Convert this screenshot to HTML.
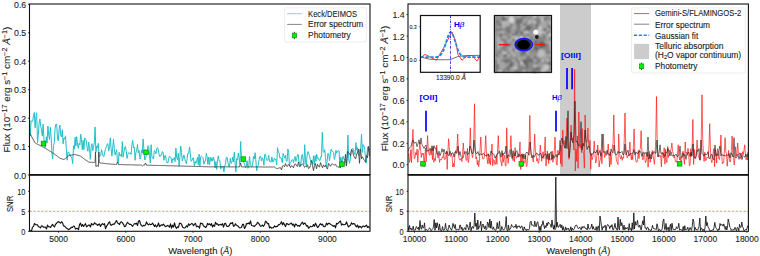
<!DOCTYPE html>
<html><head><meta charset="utf-8"><style>
html,body{margin:0;padding:0;background:#fff;}
svg{display:block;}
text{font-family:"Liberation Sans", sans-serif;stroke-width:0.1px;}
</style></head><body>
<svg width="760" height="256" viewBox="0 0 760 256">
<defs>
<clipPath id="cl1"><rect x="29.5" y="4.0" width="340.5" height="170.6"/></clipPath>
<clipPath id="cl2"><rect x="29.5" y="174.6" width="340.5" height="56.70000000000002"/></clipPath>
<clipPath id="cr1"><rect x="408.0" y="4.0" width="340.4" height="170.6"/></clipPath>
<clipPath id="cr2"><rect x="408.0" y="174.6" width="340.4" height="56.70000000000002"/></clipPath>
<clipPath id="ci1"><rect x="420.5" y="15.5" width="59.7" height="56.8"/></clipPath>
<filter id="blur" x="0" y="0" width="1" height="1"><feGaussianBlur stdDeviation="0.9"/></filter>
<filter id="blur2" x="-1" y="-1" width="3" height="3"><feGaussianBlur stdDeviation="0.6"/></filter>
</defs>
<rect width="760" height="256" fill="#fff"/>

<!-- LEFT top -->
<g clip-path="url(#cl1)" fill="none" stroke-linejoin="round">
<polyline points="29.5,120.3 30.3,135.7 31.1,120.6 31.9,121.6 32.7,121.1 33.5,115.4 34.3,112.5 35.1,127.8 35.9,117.0 36.7,112.8 37.5,142.9 38.3,135.5 39.1,123.2 39.9,119.0 40.7,126.2 41.5,130.0 42.3,136.1 43.1,124.1 43.9,138.1 44.7,147.3 45.5,147.1 46.3,136.8 47.1,143.1 47.9,126.0 48.7,135.2 49.5,139.4 50.3,127.2 51.1,136.7 51.9,152.5 52.7,159.1 53.5,145.7 54.3,142.4 55.1,128.2 55.9,124.2 56.7,124.1 57.5,138.9 58.3,140.8 59.1,129.5 59.9,125.0 60.7,135.7 61.5,136.9 62.3,129.6 63.1,143.8 63.9,138.0 64.7,139.2 65.5,135.8 66.3,148.4 67.1,160.2 67.9,152.3 68.7,152.0 69.5,155.0 70.3,154.9 71.1,157.1 71.9,157.9 72.7,163.7 73.5,145.7 74.3,149.3 75.1,137.1 75.9,146.1 76.7,136.7 77.5,144.0 78.3,148.3 79.1,143.3 79.9,144.9 80.7,134.2 81.5,139.8 82.3,149.8 83.1,140.3 83.9,149.6 84.7,137.9 85.5,139.6 86.3,140.0 87.1,147.9 87.9,151.3 88.7,142.1 89.5,148.3 90.3,159.3 91.1,147.6 91.9,143.7 92.7,150.7 93.5,147.3 94.3,142.9 95.1,127.0 95.9,152.3 96.7,146.0 97.5,147.7 98.3,143.3 99.1,156.9 99.9,155.5 100.7,155.7 101.5,149.6 102.3,152.7 103.1,156.0 103.9,156.6 104.7,152.1 105.5,149.1 106.3,146.8 107.1,144.2 107.9,143.7 108.7,151.1 109.5,147.3 110.3,137.8 111.1,148.5 111.9,156.2 112.7,148.1 113.5,139.1 114.3,148.9 115.1,155.2 115.9,152.0 116.7,149.7 117.5,162.6 118.3,163.1 119.1,152.3 119.9,155.9 120.7,154.5 121.5,156.9 122.3,141.5 123.1,157.1 123.9,152.0 124.7,147.3 125.5,146.5 126.3,151.7 127.1,158.4 127.9,154.3 128.7,152.6 129.5,153.4 130.3,152.8 131.1,154.4 131.9,145.1 132.7,140.4 133.5,147.9 134.3,147.0 135.1,160.3 135.9,152.7 136.7,150.2 137.5,144.6 138.3,152.9 139.1,150.5 139.9,159.1 140.7,157.7 141.5,149.9 142.3,153.1 143.1,139.0 143.9,148.9 144.7,160.0 145.5,158.5 146.3,155.0 147.1,152.8 147.9,145.7 148.7,146.2 149.5,155.3 150.3,163.0 151.1,144.7 151.9,156.3 152.7,158.2 153.5,158.9 154.3,150.4 155.1,151.4 155.9,153.9 156.7,148.9 157.5,147.6 158.3,149.8 159.1,154.3 159.9,156.7 160.7,155.2 161.5,155.1 162.3,151.6 163.1,152.1 163.9,160.3 164.7,155.8 165.5,155.7 166.3,160.7 167.1,162.9 167.9,162.8 168.7,158.5 169.5,156.1 170.3,157.5 171.1,157.9 171.9,163.0 172.7,158.8 173.5,159.5 174.3,157.5 175.1,161.7 175.9,148.1 176.7,157.7 177.5,159.8 178.3,153.2 179.1,166.1 179.9,157.4 180.7,146.0 181.5,152.6 182.3,160.8 183.1,158.5 183.9,154.9 184.7,158.6 185.5,161.5 186.3,163.7 187.1,158.8 187.9,153.2 188.7,153.5 189.5,146.9 190.3,153.9 191.1,161.3 191.9,160.7 192.7,158.0 193.5,157.9 194.3,165.7 195.1,161.5 195.9,163.4 196.7,160.9 197.5,157.3 198.3,165.1 199.1,154.2 199.9,166.0 200.7,156.7 201.5,156.1 202.3,156.8 203.1,157.7 203.9,164.2 204.7,161.3 205.5,161.1 206.3,153.4 207.1,156.8 207.9,164.4 208.7,157.0 209.5,164.9 210.3,157.4 211.1,161.3 211.9,157.7 212.7,161.0 213.5,157.2 214.3,160.4 215.1,168.0 215.9,161.6 216.7,169.5 217.5,159.7 218.3,155.9 219.1,160.7 219.9,160.5 220.7,169.1 221.5,166.6 222.3,167.2 223.1,166.0 223.9,172.0 224.7,166.4 225.5,163.7 226.3,157.6 227.1,157.2 227.9,162.3 228.7,166.5 229.5,166.4 230.3,158.3 231.1,163.4 231.9,162.1 232.7,157.1 233.5,162.0 234.3,152.2 235.1,162.9 235.9,171.9 236.7,158.6 237.5,160.2 238.3,153.1 239.1,157.9 239.9,164.0 240.7,141.5 241.5,160.9 242.3,160.1 243.1,160.1 243.9,162.7 244.7,164.7 245.5,167.9 246.3,165.9 247.1,160.7 247.9,168.4 248.7,167.3 249.5,156.3 250.3,164.5 251.1,166.4 251.9,166.9 252.7,164.1 253.5,156.4 254.3,158.9 255.1,152.7 255.9,161.1 256.7,170.8 257.5,166.2 258.3,165.4 259.1,159.4 259.9,156.4 260.7,156.5 261.5,161.1 262.3,157.8 263.1,159.0 263.9,165.3 264.7,154.3 265.5,154.6 266.3,158.5 267.1,160.7 267.9,160.0 268.7,155.4 269.5,161.4 270.3,161.1 271.1,162.2 271.9,156.9 272.7,161.8 273.5,161.9 274.3,158.3 275.1,159.6 275.9,159.3 276.7,165.0 277.5,147.6 278.3,152.2 279.1,152.7 279.9,158.1 280.7,157.5 281.5,159.0 282.3,162.7 283.1,153.4 283.9,155.8 284.7,158.2 285.5,155.1 286.3,161.2 287.1,161.2 287.9,149.0 288.7,152.5 289.5,165.8 290.3,162.6 291.1,161.5 291.9,159.8 292.7,159.6 293.5,162.6 294.3,158.9 295.1,156.4 295.9,161.4 296.7,158.7 297.5,154.6 298.3,154.6 299.1,163.0 299.9,162.4 300.7,166.6 301.5,156.3 302.3,154.6 303.1,160.0 303.9,164.4 304.7,144.7 305.5,161.0 306.3,165.8 307.1,154.9 307.9,151.5 308.7,153.6 309.5,156.1 310.3,159.7 311.1,162.5 311.9,160.7 312.7,163.9 313.5,155.8 314.3,164.9 315.1,155.6 315.9,161.6 316.7,154.2 317.5,158.4 318.3,158.1 319.1,160.0 319.9,160.7 320.7,156.8 321.5,157.0 322.3,132.4 323.1,151.3 323.9,152.5 324.7,149.8 325.5,157.5 326.3,167.1 327.1,161.0 327.9,153.3 328.7,154.0 329.5,160.6 330.3,154.6 331.1,149.2 331.9,151.1 332.7,151.3 333.5,152.4 334.3,159.4 335.1,156.9 335.9,150.3 336.7,153.2 337.5,151.1 338.3,150.4 339.1,150.8 339.9,168.0 340.7,156.9 341.5,159.8 342.3,160.9 343.1,156.1 343.9,159.4 344.7,159.7 345.5,159.2 346.3,166.0 347.1,158.2 347.9,135.0 348.7,158.8 349.5,163.3 350.3,159.3 351.1,152.0 351.9,149.1 352.7,148.3 353.5,149.6 354.3,154.1 355.1,154.6 355.9,142.6 356.7,150.1 357.5,147.6 358.3,154.8 359.1,155.9 359.9,148.9 360.7,149.1 361.5,134.0 362.3,152.3 363.1,144.6 363.9,145.9 364.7,149.1 365.5,158.2 366.3,163.1 367.1,152.7 367.9,146.7 368.7,151.2 369.5,148.3" stroke="#22bfc8" stroke-width="1.0"/>
<polyline points="29.5,132.5 30.5,134.4 31.5,136.3 32.5,138.2 33.5,140.1 34.5,142.0 35.5,143.2 36.5,143.8 37.5,144.2 38.5,144.8 39.5,145.2 40.5,145.8 41.5,146.2 42.5,146.8 43.5,147.2 44.5,147.8 45.5,148.3 46.5,149.0 47.5,149.6 48.5,150.3 49.5,150.9 50.5,151.6 51.5,152.2 52.5,152.9 53.5,153.5 54.5,154.2 55.5,154.9 56.5,155.6 57.5,156.4 58.5,157.2 59.5,157.9 60.5,158.5 61.5,158.8 62.5,159.1 63.5,159.4 64.5,159.2 65.5,158.4 66.5,157.6 67.5,156.7 68.5,155.9 69.5,155.4 70.5,155.2 71.5,155.1 72.5,154.9 73.5,154.8 74.5,154.6 75.5,154.6 76.5,154.9 77.5,155.2 78.5,155.4 79.5,155.7 80.5,156.2 81.5,156.9 82.5,157.7 83.5,158.5 84.5,159.2 85.5,159.9 86.5,160.6 87.5,161.2 88.5,161.9 89.5,162.2 90.5,162.3 91.5,162.3 92.5,162.4 93.5,162.4 94.5,162.5 95.1,161.5 95.5,152.0 95.9,166.5 97.2,165.5 98.4,166.5 98.8,152.0 99.2,162.5 100.5,163.1 101.5,163.2 102.5,163.2 103.5,163.3 104.5,163.4 105.5,163.6 106.5,163.7 107.5,163.8 108.5,163.8 109.5,163.9 110.5,164.1 111.5,164.2 112.5,164.2 113.5,164.3 114.5,164.4 115.5,164.5 116.5,164.5 117.5,162.0 118.5,164.6 119.5,164.6 120.5,164.6 121.5,164.6 122.5,164.7 123.5,164.7 124.5,164.7 125.5,164.7 126.5,164.8 127.5,164.8 128.5,164.8 129.5,164.8 130.5,164.8 131.5,164.9 132.5,164.9 133.5,164.9 134.5,164.9 135.5,165.0 136.5,165.0 137.5,165.0 138.5,165.0 139.5,165.0 140.5,165.1 141.5,165.1 142.5,166.0 143.5,165.1 144.5,165.2 145.5,163.0 146.5,165.2 147.5,165.2 148.5,165.2 149.5,165.3 150.5,165.3 151.5,165.3 152.5,165.3 153.5,165.4 154.5,165.4 155.5,165.4 156.5,165.4 157.5,165.4 158.5,165.5 159.5,165.5 160.5,165.5 161.5,165.5 162.5,165.6 163.5,165.6 164.5,165.6 165.5,165.6 166.5,165.7 167.5,165.7 168.5,165.7 169.5,165.8 170.5,165.8 171.5,165.8 172.5,165.8 173.5,165.9 174.5,165.9 175.5,165.9 176.5,165.9 177.5,166.0 178.5,166.0 179.5,166.0 180.5,166.0 181.5,166.1 182.5,166.1 183.5,166.1 184.5,166.2 185.5,166.2 186.5,166.2 187.5,166.2 188.5,166.3 189.5,166.3 190.5,166.3 191.5,166.3 192.5,166.4 193.5,166.4 194.5,166.4 195.5,166.4 196.5,166.5 197.5,166.5 198.5,166.5 199.5,166.5 200.5,166.6 201.5,166.6 202.5,166.6 203.5,166.7 204.5,166.7 205.5,166.7 206.5,166.7 207.5,166.8 208.5,166.8 209.5,166.8 210.5,166.8 211.5,166.8 212.5,166.8 213.5,166.8 214.5,166.8 215.5,166.8 216.5,166.8 217.5,166.8 218.5,166.8 219.5,166.8 220.5,166.8 221.5,166.8 222.5,166.8 223.5,166.8 224.5,166.8 225.5,166.8 226.5,166.8 227.5,166.9 228.5,166.9 229.5,166.9 230.5,166.9 231.5,166.9 232.5,166.9 233.5,166.9 234.5,166.9 235.5,166.9 236.5,166.9 237.5,166.9 238.5,166.9 239.5,166.9 240.5,163.0 241.5,166.9 242.5,166.9 243.5,166.9 244.5,166.9 245.5,166.9 246.5,166.9 247.5,166.9 248.5,166.9 249.5,166.9 250.5,166.9 251.5,166.9 252.5,166.9 253.5,166.9 254.5,166.9 255.5,166.9 256.5,166.9 257.5,166.9 258.5,166.9 259.5,166.9 260.5,166.9 261.5,166.9 262.5,167.0 263.5,167.0 264.5,167.0 265.5,167.0 266.5,167.0 267.5,167.0 268.5,167.0 269.5,167.0 270.5,167.0 271.5,167.0 272.5,167.0 273.5,166.9 274.5,167.0 275.5,167.9 276.5,168.4 277.5,168.6 278.5,168.1 279.5,167.9 280.5,167.7 281.5,169.9 282.5,166.0 283.5,165.6 284.5,166.7 285.5,163.5 286.5,166.1 287.5,166.3 288.5,164.5 289.5,165.2 290.5,167.5 291.5,165.7 292.5,166.2 293.5,167.9 294.5,164.8 295.5,163.7 296.5,165.7 297.5,166.4 298.5,162.2 299.5,166.7 300.5,164.9 301.5,164.7 302.5,163.9 303.5,165.1 304.5,167.3 305.5,166.5 306.5,167.0 307.5,164.8 308.5,168.5 309.5,167.9 310.5,165.4 311.5,160.5 312.5,165.6 313.5,170.7 314.5,165.4 315.5,163.5 316.5,168.8 317.5,164.3 318.5,166.4 319.5,167.0 320.5,162.6 321.5,165.7 322.5,167.8 323.5,164.9 324.5,166.8 325.5,165.4 326.5,167.5 327.5,169.1 328.5,163.3 329.5,164.9 330.5,166.3 331.5,164.2 332.5,163.9 333.5,164.8 334.5,165.0 335.5,164.2 336.5,166.1 337.5,167.1 338.5,167.0 339.5,166.9 340.5,167.6 341.5,160.7 342.5,162.9 343.5,162.9 344.5,163.2 345.5,154.3 346.5,165.9 347.5,151.4 348.5,152.8 349.5,153.5 350.5,155.8 351.5,149.2 352.5,150.6 353.5,155.4 354.5,157.1 355.5,159.0 356.5,154.9 357.5,152.1 358.5,149.2 359.5,163.3 360.5,149.0 361.5,158.7 362.5,156.8 363.5,159.2 364.5,160.2 365.5,162.2 366.5,155.5 367.5,157.8 368.5,146.3 369.5,156.2" stroke="#444" stroke-width="0.9"/>
</g>
<g fill="#00ee00" stroke="#0a8a0a" stroke-width="0.7">
<rect x="41.2" y="141.2" width="4.6" height="4.6"/>
<rect x="143.7" y="150" width="4.6" height="4.6"/>
<rect x="241.1" y="156.8" width="4.6" height="4.6"/>
<rect x="339.7" y="161.9" width="4.6" height="4.6"/>
</g>
<!-- left legend -->
<rect x="284.6" y="7.8" width="81.7" height="34.2" rx="1.5" fill="#fff" fill-opacity="0.8" stroke="#e0e0e0" stroke-width="0.6"/>
<line x1="287.2" y1="13.7" x2="301.8" y2="13.7" stroke="#7fd8dc" stroke-width="1"/>
<line x1="287.2" y1="24.4" x2="301.8" y2="24.4" stroke="#666" stroke-width="0.8"/>
<line x1="294.4" y1="31.8" x2="294.4" y2="39.2" stroke="#000" stroke-width="0.7"/>
<rect x="292.2" y="33.1" width="4.4" height="4.8" fill="#00ee00" stroke="#0a8a0a" stroke-width="0.6"/>
<g fill="#1a1a1a" stroke="#1a1a1a">
<text x="308.10" y="16.70" font-size="8.4" textLength="48.9" lengthAdjust="spacingAndGlyphs">Keck/DEIMOS</text>
<text x="308.10" y="27.30" font-size="8.4" textLength="55.2" lengthAdjust="spacingAndGlyphs">Error spectrum</text>
<text x="308.10" y="38.10" font-size="8.4" textLength="42.7" lengthAdjust="spacingAndGlyphs">Photometry</text>
</g>

<!-- LEFT SNR -->
<line x1="29.5" y1="211.3" x2="370.0" y2="211.3" stroke="#fb9d35" stroke-width="1.0" stroke-dasharray="2.4,1.5"/>
<g clip-path="url(#cl2)"><polyline points="29.5,230.2 30.5,230.7 31.5,231.0 32.5,227.1 33.5,226.4 34.5,223.5 35.5,224.6 36.5,224.8 37.5,224.9 38.5,226.7 39.5,227.0 40.5,227.8 41.5,225.9 42.5,226.1 43.5,227.2 44.5,227.0 45.5,227.2 46.5,229.0 47.5,225.1 48.5,226.7 49.5,226.8 50.5,227.5 51.5,225.9 52.5,224.4 53.5,225.8 54.5,227.0 55.5,224.2 56.5,223.5 57.5,222.2 58.5,221.6 59.5,222.5 60.5,223.1 61.5,221.8 62.5,222.6 63.5,225.9 64.5,226.0 65.5,227.1 66.5,228.2 67.5,228.7 68.5,229.7 69.5,229.1 70.5,228.2 71.5,227.3 72.5,227.5 73.5,226.0 74.5,226.6 75.5,229.1 76.5,228.5 77.5,228.3 78.5,229.6 79.5,224.6 80.5,223.1 81.5,226.3 82.5,224.4 83.5,226.5 84.5,225.0 85.5,223.6 86.5,226.8 87.5,226.0 88.5,225.1 89.5,225.1 90.5,226.9 91.5,223.5 92.5,224.6 93.5,224.7 94.5,222.7 95.5,223.9 96.5,224.0 97.5,225.5 98.5,224.5 99.5,223.9 100.5,226.5 101.5,224.4 102.5,223.7 103.5,224.6 104.5,223.6 105.5,228.7 106.5,226.2 107.5,224.9 108.5,222.9 109.5,221.8 110.5,224.7 111.5,225.3 112.5,224.4 113.5,224.1 114.5,224.1 115.5,222.0 116.5,220.5 117.5,222.9 118.5,223.4 119.5,224.5 120.5,222.2 121.5,221.8 122.5,222.9 123.5,224.3 124.5,226.6 125.5,226.3 126.5,224.0 127.5,222.3 128.5,223.4 129.5,224.3 130.5,224.3 131.5,225.0 132.5,226.3 133.5,225.0 134.5,223.5 135.5,224.0 136.5,223.1 137.5,225.5 138.5,221.2 139.5,220.5 140.5,224.0 141.5,225.6 142.5,226.3 143.5,225.3 144.5,225.7 145.5,224.9 146.5,221.9 147.5,223.9 148.5,224.9 149.5,223.9 150.5,224.6 151.5,224.5 152.5,223.2 153.5,224.6 154.5,226.4 155.5,224.9 156.5,226.9 157.5,225.9 158.5,223.0 159.5,226.6 160.5,225.7 161.5,224.8 162.5,225.3 163.5,224.1 164.5,225.5 165.5,226.6 166.5,226.2 167.5,225.4 168.5,225.9 169.5,227.2 170.5,223.9 171.5,228.2 172.5,225.2 173.5,227.1 174.5,222.9 175.5,226.9 176.5,228.3 177.5,226.9 178.5,227.3 179.5,223.1 180.5,223.5 181.5,224.0 182.5,227.0 183.5,227.7 184.5,228.0 185.5,227.5 186.5,225.8 187.5,227.0 188.5,223.8 189.5,225.3 190.5,224.4 191.5,223.6 192.5,223.7 193.5,225.7 194.5,224.2 195.5,223.4 196.5,226.8 197.5,226.2 198.5,226.5 199.5,228.2 200.5,223.1 201.5,223.6 202.5,223.6 203.5,226.0 204.5,226.4 205.5,227.5 206.5,226.7 207.5,223.3 208.5,224.6 209.5,223.8 210.5,225.3 211.5,223.6 212.5,227.0 213.5,225.0 214.5,226.4 215.5,222.4 216.5,224.1 217.5,223.9 218.5,225.3 219.5,224.7 220.5,224.4 221.5,224.9 222.5,223.7 223.5,227.1 224.5,223.8 225.5,223.2 226.5,225.9 227.5,226.4 228.5,226.2 229.5,225.3 230.5,223.0 231.5,223.4 232.5,222.5 233.5,226.4 234.5,225.7 235.5,223.7 236.5,225.3 237.5,225.7 238.5,226.7 239.5,227.8 240.5,227.7 241.5,227.5 242.5,224.4 243.5,224.3 244.5,228.5 245.5,227.0 246.5,223.5 247.5,223.8 248.5,223.0 249.5,224.0 250.5,220.8 251.5,225.5 252.5,225.7 253.5,225.9 254.5,226.5 255.5,225.1 256.5,224.4 257.5,222.3 258.5,223.1 259.5,224.6 260.5,226.3 261.5,226.0 262.5,225.0 263.5,226.3 264.5,224.8 265.5,221.2 266.5,221.9 267.5,223.7 268.5,223.5 269.5,227.9 270.5,227.0 271.5,228.1 272.5,227.8 273.5,227.7 274.5,225.8 275.5,226.9 276.5,226.4 277.5,226.4 278.5,224.5 279.5,224.6 280.5,223.6 281.5,221.7 282.5,224.8 283.5,222.7 284.5,224.7 285.5,226.6 286.5,223.5 287.5,223.9 288.5,224.7 289.5,224.0 290.5,223.8 291.5,223.0 292.5,225.2 293.5,224.1 294.5,227.0 295.5,224.0 296.5,224.5 297.5,226.0 298.5,225.5 299.5,226.4 300.5,224.9 301.5,223.2 302.5,222.2 303.5,224.5 304.5,223.1 305.5,223.7 306.5,226.1 307.5,225.5 308.5,228.2 309.5,227.3 310.5,226.3 311.5,226.7 312.5,226.5 313.5,224.6 314.5,226.3 315.5,223.2 316.5,225.2 317.5,227.4 318.5,226.8 319.5,224.8 320.5,223.7 321.5,225.0 322.5,224.2 323.5,226.5 324.5,226.7 325.5,226.0 326.5,223.0 327.5,224.8 328.5,223.2 329.5,223.5 330.5,224.2 331.5,224.9 332.5,225.5 333.5,226.3 334.5,225.6 335.5,227.8 336.5,223.3 337.5,223.9 338.5,222.8 339.5,221.7 340.5,221.1 341.5,225.1 342.5,224.1 343.5,224.7 344.5,224.6 345.5,224.2 346.5,221.9 347.5,224.7 348.5,227.0 349.5,225.9 350.5,225.2 351.5,222.7 352.5,224.2 353.5,223.5 354.5,223.8 355.5,225.6 356.5,226.9 357.5,225.0 358.5,227.8 359.5,226.4 360.5,226.6 361.5,228.0 362.5,226.3 363.5,226.0 364.5,226.7 365.5,226.0 366.5,225.1 367.5,227.4 368.5,226.6 369.5,228.1" fill="none" stroke="#111" stroke-width="1.15" stroke-linejoin="round"/></g>

<!-- LEFT axes frames -->
<g stroke="#111" stroke-width="1.1" fill="none">
<rect x="29.5" y="4.0" width="340.5" height="170.6"/>
<rect x="29.5" y="174.6" width="340.5" height="56.70000000000002"/>
<line x1="29.5" y1="174.85" x2="370.0" y2="174.85" stroke-width="1.8"/>
</g>
<g stroke="#111" stroke-width="0.8">
<line x1="28.0" y1="175.00" x2="29.5" y2="175.00"/><line x1="28.0" y1="146.55" x2="29.5" y2="146.55"/><line x1="28.0" y1="118.10" x2="29.5" y2="118.10"/><line x1="28.0" y1="89.65" x2="29.5" y2="89.65"/><line x1="28.0" y1="61.20" x2="29.5" y2="61.20"/><line x1="28.0" y1="32.75" x2="29.5" y2="32.75"/><line x1="28.0" y1="4.30" x2="29.5" y2="4.30"/>
<line x1="28.0" y1="231.30" x2="29.5" y2="231.30"/><line x1="28.0" y1="211.30" x2="29.5" y2="211.30"/><line x1="28.0" y1="191.30" x2="29.5" y2="191.30"/>
<line x1="58.60" y1="231.3" x2="58.60" y2="232.8"/><line x1="125.80" y1="231.3" x2="125.80" y2="232.8"/><line x1="193.00" y1="231.3" x2="193.00" y2="232.8"/><line x1="260.20" y1="231.3" x2="260.20" y2="232.8"/><line x1="327.40" y1="231.3" x2="327.40" y2="232.8"/>
</g>
<g font-size="8.4" fill="#1a1a1a" stroke="#1a1a1a">
<text x="26.20" y="178.50" font-size="9.3" text-anchor="end" textLength="12.2" lengthAdjust="spacingAndGlyphs">0.0</text><text x="26.20" y="150.05" font-size="9.3" text-anchor="end" textLength="12.2" lengthAdjust="spacingAndGlyphs">0.1</text><text x="26.20" y="121.60" font-size="9.3" text-anchor="end" textLength="12.2" lengthAdjust="spacingAndGlyphs">0.2</text><text x="26.20" y="93.15" font-size="9.3" text-anchor="end" textLength="12.2" lengthAdjust="spacingAndGlyphs">0.3</text><text x="26.20" y="64.70" font-size="9.3" text-anchor="end" textLength="12.2" lengthAdjust="spacingAndGlyphs">0.4</text><text x="26.20" y="36.25" font-size="9.3" text-anchor="end" textLength="12.2" lengthAdjust="spacingAndGlyphs">0.5</text><text x="26.20" y="7.80" font-size="9.3" text-anchor="end" textLength="12.2" lengthAdjust="spacingAndGlyphs">0.6</text>
<text x="25.40" y="234.80" font-size="9.3" text-anchor="end" textLength="4.1" lengthAdjust="spacingAndGlyphs">0</text><text x="25.40" y="214.80" font-size="9.3" text-anchor="end" textLength="4.1" lengthAdjust="spacingAndGlyphs">5</text><text x="25.40" y="194.80" font-size="9.3" text-anchor="end" textLength="8.2" lengthAdjust="spacingAndGlyphs">10</text>
<text x="58.60" y="241.80" font-size="9.4" text-anchor="middle" textLength="18.8" lengthAdjust="spacingAndGlyphs">5000</text><text x="125.80" y="241.80" font-size="9.4" text-anchor="middle" textLength="18.8" lengthAdjust="spacingAndGlyphs">6000</text><text x="193.00" y="241.80" font-size="9.4" text-anchor="middle" textLength="18.8" lengthAdjust="spacingAndGlyphs">7000</text><text x="260.20" y="241.80" font-size="9.4" text-anchor="middle" textLength="18.8" lengthAdjust="spacingAndGlyphs">8000</text><text x="327.40" y="241.80" font-size="9.4" text-anchor="middle" textLength="18.8" lengthAdjust="spacingAndGlyphs">9000</text>
<text x="168.2" y="253.5" font-size="9" textLength="64.3" lengthAdjust="spacingAndGlyphs">Wavelength (<tspan font-style="italic">Å</tspan>)</text>
<text transform="translate(13.3,212.1) rotate(-90)" font-size="9" textLength="16.5" lengthAdjust="spacingAndGlyphs">SNR</text>
<text transform="translate(10.3,152.4) rotate(-90)" font-size="9" textLength="125.6" lengthAdjust="spacingAndGlyphs">Flux (10<tspan dy="-3.2" font-size="6.5">−17</tspan><tspan dy="3.2"> erg s</tspan><tspan dy="-3.2" font-size="6.5">−1</tspan><tspan dy="3.2"> cm</tspan><tspan dy="-3.2" font-size="6.5">−2</tspan><tspan dy="3.2"> </tspan><tspan font-style="italic">Å</tspan><tspan dy="-3.2" font-size="6.5">−1</tspan><tspan dy="3.2">)</tspan></text>
</g>

<!-- RIGHT top -->
<rect x="560" y="4.0" width="31" height="170.6" fill="#cccccc"/>
<g clip-path="url(#cr1)" fill="none" stroke-linejoin="round">
<polyline points="408.0,155.4 408.7,153.7 409.4,162.3 410.1,160.5 410.8,149.7 411.5,162.7 412.2,146.2 412.9,129.4 413.6,147.4 414.3,158.7 415.0,157.9 415.7,152.6 416.4,154.9 417.1,149.1 417.8,162.3 418.5,150.8 419.2,149.8 419.9,142.0 420.6,150.4 421.3,157.5 422.0,153.0 422.7,154.8 423.4,153.4 424.1,167.0 424.8,156.0 425.5,148.1 426.2,161.6 426.9,148.5 427.6,135.6 428.3,149.5 429.0,153.8 429.7,155.3 430.4,150.3 431.1,154.8 431.8,148.7 432.5,159.6 433.2,146.7 433.9,162.3 434.6,158.6 435.3,160.7 436.0,153.0 436.7,145.0 437.4,153.6 438.1,158.0 438.8,153.6 439.5,162.4 440.2,159.1 440.9,159.8 441.6,159.6 442.3,156.9 443.0,158.0 443.7,152.6 444.4,159.3 445.1,159.4 445.8,157.2 446.5,151.0 447.2,169.4 447.9,151.4 448.6,138.8 449.3,147.0 450.0,155.8 450.7,156.6 451.4,153.7 452.1,155.9 452.8,167.0 453.5,163.3 454.2,166.8 454.9,155.8 455.6,150.5 456.3,152.7 457.0,147.4 457.7,134.0 458.4,151.0 459.1,158.9 459.8,160.1 460.5,160.0 461.2,158.0 461.9,161.6 462.6,153.0 463.3,143.0 464.0,153.8 464.7,151.4 465.4,154.3 466.1,160.4 466.8,160.1 467.5,148.2 468.2,162.5 468.9,160.1 469.6,147.8 470.3,127.8 471.0,149.3 471.7,153.2 472.4,157.7 473.1,154.2 473.8,139.3 474.5,103.8 475.2,142.1 475.9,158.8 476.6,156.8 477.3,164.9 478.0,160.5 478.7,166.7 479.4,161.2 480.1,148.8 480.8,137.0 481.5,152.0 482.2,155.2 482.9,159.1 483.6,158.8 484.3,157.1 485.0,150.4 485.7,135.6 486.4,151.6 487.1,159.2 487.8,163.7 488.5,153.9 489.2,163.6 489.9,157.5 490.6,164.8 491.3,153.3 492.0,144.0 492.7,165.8 493.4,159.7 494.1,160.0 494.8,164.5 495.5,164.1 496.2,155.6 496.9,164.3 497.6,148.8 498.3,135.6 499.0,151.5 499.7,153.0 500.4,159.6 501.1,161.9 501.8,166.0 502.5,153.1 503.2,162.4 503.9,157.8 504.6,155.4 505.3,165.6 506.0,166.2 506.7,127.8 507.4,149.1 508.1,163.4 508.8,156.2 509.5,150.6 510.2,150.3 510.9,135.6 511.6,151.5 512.3,155.2 513.0,160.6 513.7,152.6 514.4,161.9 515.1,147.6 515.8,155.9 516.5,158.2 517.2,156.3 517.9,156.7 518.6,157.0 519.3,152.5 520.0,142.0 520.7,169.5 521.4,154.2 522.1,167.0 522.8,153.7 523.5,157.7 524.2,163.3 524.9,162.4 525.6,155.2 526.3,166.7 527.0,165.7 527.7,157.0 528.4,153.1 529.1,143.2 529.8,115.3 530.5,145.3 531.2,154.9 531.9,155.7 532.6,158.9 533.3,162.0 534.0,149.6 534.7,134.0 535.4,150.9 536.1,154.7 536.8,161.1 537.5,158.7 538.2,163.4 538.9,162.0 539.6,153.5 540.3,145.0 541.0,154.2 541.7,161.3 542.4,155.6 543.1,151.8 543.8,158.6 544.5,150.7 545.2,137.0 545.9,166.1 546.6,160.7 547.3,150.9 548.0,156.1 548.7,163.6 549.4,153.5 550.1,159.9 550.8,160.0 551.5,159.9 552.2,151.1 552.9,162.4 553.6,158.7 554.3,150.7 555.0,137.0 555.7,151.7 556.4,163.2 557.1,165.1 557.8,150.3 558.5,153.4 559.2,154.8 559.9,140.4 560.6,163.7 561.3,145.3 562.0,166.5 562.7,130.0 563.4,143.8 564.1,140.4 564.8,146.0 565.5,148.2 566.2,137.6 566.9,118.0 567.6,139.1 568.3,145.7 569.0,159.3 569.7,150.0 570.4,139.0 571.1,125.0 571.8,140.1 572.5,138.1 573.2,142.2 573.9,150.0 574.6,69.0 575.3,171.0 576.0,149.3 576.7,161.4 577.4,136.0 578.1,168.3 578.8,112.0 579.5,136.1 580.2,148.0 580.9,144.7 581.6,152.7 582.3,128.7 583.0,151.0 583.7,154.7 584.4,168.1 585.1,115.0 585.8,138.7 586.5,141.7 587.2,142.3 587.9,128.0 588.6,143.4 589.3,147.9 590.0,140.4 590.7,169.3 591.4,153.4 592.1,159.7 592.8,157.8 593.5,152.1 594.2,141.0 594.9,152.9 595.6,163.0 596.3,161.6 597.0,153.4 597.7,145.0 598.4,151.5 599.1,167.0 599.8,161.1 600.5,159.4 601.2,152.6 601.9,163.7 602.6,149.6 603.3,134.0 604.0,150.4 604.7,157.4 605.4,155.4 606.1,154.9 606.8,155.3 607.5,153.1 608.2,144.0 608.9,153.8 609.6,167.0 610.3,152.1 611.0,164.5 611.7,156.6 612.4,145.8 613.1,142.9 613.8,115.0 614.5,145.1 615.2,153.4 615.9,155.8 616.6,161.1 617.3,162.6 618.0,164.5 618.7,134.0 619.4,150.8 620.1,157.1 620.8,159.1 621.5,155.6 622.2,160.4 622.9,157.2 623.6,158.3 624.3,138.4 625.0,113.0 625.7,144.5 626.4,152.5 627.1,157.8 627.8,155.7 628.5,155.9 629.2,152.4 629.9,142.0 630.6,153.2 631.3,159.8 632.0,154.3 632.7,159.6 633.4,146.1 634.1,129.0 634.8,149.3 635.5,158.0 636.2,161.8 636.9,162.3 637.6,159.9 638.3,150.4 639.0,158.6 639.7,150.4 640.4,148.4 641.1,130.7 641.8,149.8 642.5,159.5 643.2,159.8 643.9,152.9 644.6,154.4 645.3,162.8 646.0,161.5 646.7,157.7 647.4,152.1 648.1,167.2 648.8,152.9 649.5,151.4 650.2,162.3 650.9,157.5 651.6,159.0 652.3,150.5 653.0,155.8 653.7,159.3 654.4,164.3 655.1,154.9 655.8,136.5 656.5,96.6 657.2,139.6 657.9,156.6 658.6,156.8 659.3,155.3 660.0,156.6 660.7,155.4 661.4,166.8 662.1,152.3 662.8,153.4 663.5,158.1 664.2,147.8 664.9,164.1 665.6,149.3 666.3,161.1 667.0,162.7 667.7,146.5 668.4,157.5 669.1,154.7 669.8,150.2 670.5,152.1 671.2,148.3 671.9,143.0 672.6,151.4 673.3,154.0 674.0,157.9 674.7,156.3 675.4,161.7 676.1,161.7 676.8,162.2 677.5,153.4 678.2,144.8 678.9,154.0 679.6,159.9 680.3,156.9 681.0,164.5 681.7,159.7 682.4,153.4 683.1,151.2 683.8,159.3 684.5,164.3 685.2,142.0 685.9,153.2 686.6,152.2 687.3,155.3 688.0,148.4 688.7,154.4 689.4,165.9 690.1,164.7 690.8,148.8 691.5,156.7 692.2,144.5 692.9,119.5 693.6,164.4 694.3,149.5 695.0,158.4 695.7,159.1 696.4,151.7 697.1,140.0 697.8,152.6 698.5,157.1 699.2,158.0 699.9,159.8 700.6,157.4 701.3,135.9 702.0,94.8 702.7,139.0 703.4,153.7 704.1,161.4 704.8,152.2 705.5,160.5 706.2,160.4 706.9,157.1 707.6,157.9 708.3,157.0 709.0,146.0 709.7,123.7 710.4,147.7 711.1,159.6 711.8,162.6 712.5,159.4 713.2,152.1 713.9,148.4 714.6,166.6 715.3,149.8 716.0,152.9 716.7,163.0 717.4,148.8 718.1,152.6 718.8,159.0 719.5,159.7 720.2,149.9 720.9,135.0 721.6,151.1 722.3,163.7 723.0,162.4 723.7,162.8 724.4,150.9 725.1,137.7 725.8,151.9 726.5,153.6 727.2,166.2 727.9,158.2 728.6,150.4 729.3,158.2 730.0,162.0 730.7,159.6 731.4,150.3 732.1,136.0 732.8,151.4 733.5,157.4 734.2,164.9 734.9,158.0 735.6,146.8 736.3,156.2 737.0,152.8 737.7,143.0 738.4,153.5 739.1,154.3 739.8,152.8 740.5,158.5 741.2,156.5 741.9,156.6 742.6,151.7 743.3,154.6 744.0,150.1 744.7,144.8 745.4,154.0 746.1,159.7 746.8,157.5 747.5,159.9 748.2,151.8" stroke="#ff1010" stroke-width="0.75" stroke-opacity="0.9"/>
<polyline points="408.0,151.3 409.0,148.4 410.0,147.7 411.0,146.5 412.0,142.2 413.0,140.0 414.0,143.2 415.0,142.9 416.0,141.9 417.0,146.7 418.0,143.6 419.0,139.8 420.0,144.0 421.0,137.9 422.0,144.7 423.0,146.4 424.0,148.5 425.0,146.4 426.0,145.1 427.0,151.5 428.0,150.1 429.0,151.1 430.0,148.1 431.0,150.5 432.0,145.7 433.0,151.0 434.0,145.7 435.0,148.5 436.0,148.0 437.0,154.1 438.0,154.0 439.0,151.2 440.0,155.6 441.0,153.1 442.0,148.6 443.0,152.1 444.0,149.2 445.0,153.2 446.0,153.8 447.0,151.5 448.0,154.9 449.0,155.5 450.0,151.2 451.0,154.5 452.0,153.0 453.0,152.7 454.0,157.0 455.0,151.8 456.0,152.6 457.0,153.3 458.0,146.0 459.0,155.2 460.0,151.5 461.0,156.6 462.0,157.6 463.0,158.0 464.0,154.0 465.0,152.6 466.0,151.4 467.0,154.5 468.0,153.6 469.0,153.7 470.0,146.0 471.0,149.0 472.0,153.3 473.0,153.5 474.0,140.0 475.0,150.8 476.0,153.3 477.0,153.6 478.0,151.5 479.0,155.4 480.0,153.9 481.0,154.3 482.0,154.9 483.0,153.5 484.0,153.9 485.0,155.2 486.0,155.7 487.0,156.0 488.0,153.7 489.0,155.8 490.0,156.6 491.0,151.0 492.0,153.2 493.0,154.1 494.0,154.2 495.0,158.1 496.0,156.8 497.0,153.9 498.0,154.0 499.0,151.2 500.0,152.1 501.0,157.2 502.0,150.5 503.0,155.7 504.0,152.8 505.0,153.6 506.0,146.0 507.0,158.4 508.0,155.1 509.0,155.5 510.0,156.6 511.0,149.5 512.0,158.5 513.0,150.7 514.0,152.9 515.0,156.0 516.0,151.8 517.0,150.6 518.0,157.1 519.0,153.8 520.0,156.6 521.0,155.6 522.0,154.1 523.0,158.3 524.0,154.0 525.0,159.0 526.0,152.6 527.0,152.4 528.0,153.1 529.0,155.2 530.0,142.0 531.0,153.1 532.0,157.9 533.0,155.1 534.0,157.3 535.0,155.5 536.0,153.5 537.0,153.1 538.0,155.2 539.0,154.9 540.0,153.7 541.0,153.6 542.0,158.0 543.0,157.1 544.0,155.5 545.0,154.1 546.0,154.0 547.0,159.3 548.0,153.6 549.0,160.0 550.0,153.5 551.0,151.7 552.0,159.4 553.0,154.7 554.0,158.3 555.0,155.9 556.0,154.5 557.0,157.1 558.0,154.4 559.0,154.6 560.0,150.9 561.0,140.9 562.0,138.0 563.0,144.1 564.0,145.6 565.0,148.2 566.0,136.5 567.0,148.5 568.0,110.8 569.0,157.3 570.0,150.9 571.0,132.0 572.0,140.1 573.0,142.8 574.0,133.5 575.0,101.0 576.0,141.8 577.0,141.3 578.0,144.0 579.0,146.1 580.0,144.5 581.0,121.7 582.0,149.8 583.0,143.3 584.0,146.3 585.0,130.0 586.0,141.1 587.0,149.5 588.0,146.8 589.0,146.1 590.0,152.2 591.0,155.3 592.0,154.3 593.0,153.4 594.0,151.6 595.0,152.3 596.0,152.7 597.0,149.9 598.0,154.8 599.0,153.2 600.0,150.3 601.0,156.3 602.0,134.0 603.0,150.3 604.0,152.7 605.0,151.3 606.0,154.8 607.0,150.2 608.0,154.2 609.0,154.0 610.0,155.6 611.0,149.1 612.0,151.5 613.0,152.8 614.0,145.0 615.0,153.4 616.0,154.9 617.0,154.3 618.0,151.3 619.0,153.0 620.0,152.4 621.0,152.6 622.0,151.3 623.0,155.0 624.0,154.0 625.0,144.0 626.0,155.0 627.0,152.2 628.0,150.2 629.0,156.0 630.0,153.4 631.0,154.2 632.0,153.1 633.0,153.4 634.0,149.5 635.0,155.1 636.0,151.9 637.0,153.5 638.0,153.3 639.0,151.4 640.0,150.8 641.0,153.2 642.0,156.3 643.0,152.1 644.0,152.3 645.0,153.8 646.0,152.3 647.0,156.5 648.0,137.0 649.0,159.1 650.0,154.2 651.0,158.5 652.0,152.4 653.0,154.2 654.0,151.4 655.0,152.9 656.0,153.1 657.0,140.0 658.0,156.8 659.0,153.3 660.0,144.8 661.0,153.9 662.0,153.5 663.0,152.8 664.0,155.8 665.0,156.4 666.0,152.4 667.0,152.4 668.0,148.3 669.0,152.6 670.0,155.9 671.0,152.0 672.0,156.0 673.0,155.6 674.0,155.4 675.0,155.5 676.0,154.0 677.0,156.4 678.0,156.5 679.0,155.0 680.0,146.0 681.0,157.1 682.0,157.5 683.0,152.9 684.0,156.1 685.0,154.4 686.0,159.4 687.0,153.6 688.0,153.0 689.0,152.3 690.0,156.4 691.0,152.1 692.0,155.8 693.0,144.0 694.0,157.4 695.0,157.9 696.0,156.9 697.0,150.2 698.0,151.3 699.0,148.6 700.0,160.3 701.0,140.0 702.0,153.6 703.0,154.6 704.0,155.9 705.0,153.8 706.0,154.7 707.0,154.6 708.0,151.7 709.0,158.6 710.0,158.4 711.0,154.7 712.0,154.4 713.0,158.8 714.0,160.0 715.0,145.0 716.0,156.0 717.0,153.8 718.0,155.5 719.0,149.1 720.0,146.0 721.0,155.8 722.0,154.4 723.0,155.7 724.0,155.0 725.0,156.2 726.0,155.4 727.0,154.5 728.0,155.8 729.0,153.5 730.0,158.0 731.0,152.8 732.0,154.1 733.0,157.0 734.0,137.7 735.0,157.1 736.0,158.2 737.0,156.8 738.0,154.1 739.0,159.3 740.0,156.1 741.0,153.0 742.0,159.6 743.0,155.5 744.0,156.5 745.0,157.1 746.0,154.1 747.0,157.2 748.0,152.5" stroke="#111" stroke-width="0.7" stroke-opacity="0.85"/>
</g>
<g fill="#00ee00" stroke="#0a8a0a" stroke-width="0.7">
<rect x="420.7" y="161.5" width="4.6" height="4.6"/>
<rect x="519" y="161.5" width="4.6" height="4.6"/>
<rect x="677.3" y="161.5" width="4.6" height="4.6"/>
</g>
<!-- line markers -->
<g stroke="#0000ff" stroke-width="1.7">
<line x1="426" y1="110.7" x2="426" y2="131.6"/>
<line x1="556" y1="110.8" x2="556" y2="131.4"/>
<line x1="567" y1="68.1" x2="567" y2="89.2"/>
<line x1="572.1" y1="68.1" x2="572.1" y2="89.2"/>
</g>
<g font-weight="bold" fill="#0000ff">
<text x="419.60" y="100.00" font-size="7.6" textLength="17.9" lengthAdjust="spacingAndGlyphs">[OII]</text>
<text x="560.90" y="57.70" font-size="7.6" textLength="19.9" lengthAdjust="spacingAndGlyphs">[OIII]</text>
<text x="552.00" y="100.00" font-size="7.6" textLength="10.0" lengthAdjust="spacingAndGlyphs">H<tspan font-style="italic" font-weight="normal">β</tspan></text>
</g>

<!-- inset 1 -->
<rect x="420.5" y="15.5" width="59.7" height="56.8" fill="#fff"/>
<g clip-path="url(#ci1)" fill="none">
<polyline points="420.5,57 430,59.3 440,59.8 450,59.7 458,56.5 465,55.6 472,55.5 480.2,55.3" stroke="#444" stroke-width="0.75"/>
<polyline points="420.8,57.8 425,54.4 428.6,56.2 431.3,57.8 436.3,60.2 443.3,48.4 451.9,32 455.8,42.2 458,54.7 462,60.2 467.5,55.5 471.9,55.5 477,61 480.2,56" stroke="#ff2020" stroke-width="0.9"/>
<polyline points="420.5,57.2 421.5,57.2 422.5,57.2 423.5,57.2 424.5,57.2 425.6,57.2 426.6,57.2 427.6,57.2 428.6,57.2 429.6,57.2 430.6,57.2 431.6,57.2 432.6,57.2 433.7,57.2 434.7,57.1 435.7,57.1 436.7,57.0 437.7,56.8 438.7,56.4 439.7,55.8 440.7,54.9 441.7,53.6 442.8,51.8 443.8,49.4 444.8,46.6 445.8,43.4 446.8,40.0 447.8,36.9 448.8,34.4 449.8,32.7 450.9,32.2 451.9,32.9 452.9,34.6 453.9,37.3 454.9,40.4 455.9,43.7 456.9,46.9 457.9,49.7 459.0,52.0 460.0,53.8 461.0,55.0 462.0,55.9 463.0,56.5 464.0,56.8 465.0,57.0 466.0,57.1 467.0,57.2 468.1,57.2 469.1,57.2 470.1,57.2 471.1,57.2 472.1,57.2 473.1,57.2 474.1,57.2 475.1,57.2 476.2,57.2 477.2,57.2 478.2,57.2 479.2,57.2 480.2,57.2" stroke="#1e88f0" stroke-width="1.8" stroke-dasharray="3.4,1.5"/>
<line x1="450.5" y1="15.5" x2="450.5" y2="72.3" stroke="#1010f0" stroke-width="0.8" stroke-dasharray="2.5,1,0.6,1"/>
</g>
<rect x="420.5" y="15.5" width="59.7" height="56.8" fill="none" stroke="#111" stroke-width="1.2"/>
<g stroke="#111" stroke-width="0.6"><line x1="419" y1="26.7" x2="420.5" y2="26.7"/><line x1="419" y1="60.3" x2="420.5" y2="60.3"/><line x1="450.5" y1="72.3" x2="450.5" y2="73.6"/></g>
<g fill="#222" stroke="#222"><text x="416.80" y="28.70" font-size="5.6" text-anchor="end" textLength="7.4" lengthAdjust="spacingAndGlyphs">0.3</text><text x="416.80" y="62.20" font-size="5.6" text-anchor="end" textLength="7.4" lengthAdjust="spacingAndGlyphs">0.0</text></g>
<text x="435.90" y="79.80" font-size="7.2" textLength="30.0" lengthAdjust="spacingAndGlyphs" fill="#1a1a1a" stroke="#1a1a1a">13390.0 <tspan font-style="italic">Å</tspan></text>
<text x="454.00" y="27.00" font-size="7.6" textLength="10.5" lengthAdjust="spacingAndGlyphs" fill="#0000ff" stroke="#0000ff" font-weight="bold">H<tspan font-style="italic" font-weight="normal">β</tspan></text>

<!-- inset image -->
<g filter="url(#blur)">
<rect x="494.40" y="15.50" width="2.90" height="2.88" fill="rgb(145,145,145)"/>
<rect x="497.00" y="15.50" width="2.90" height="2.88" fill="rgb(137,137,137)"/>
<rect x="499.59" y="15.50" width="2.90" height="2.88" fill="rgb(138,138,138)"/>
<rect x="502.19" y="15.50" width="2.90" height="2.88" fill="rgb(102,102,102)"/>
<rect x="504.78" y="15.50" width="2.90" height="2.88" fill="rgb(188,188,188)"/>
<rect x="507.38" y="15.50" width="2.90" height="2.88" fill="rgb(135,135,135)"/>
<rect x="509.97" y="15.50" width="2.90" height="2.88" fill="rgb(220,220,220)"/>
<rect x="512.57" y="15.50" width="2.90" height="2.88" fill="rgb(133,133,133)"/>
<rect x="515.16" y="15.50" width="2.90" height="2.88" fill="rgb(153,153,153)"/>
<rect x="517.76" y="15.50" width="2.90" height="2.88" fill="rgb(165,165,165)"/>
<rect x="520.35" y="15.50" width="2.90" height="2.88" fill="rgb(130,130,130)"/>
<rect x="522.95" y="15.50" width="2.90" height="2.88" fill="rgb(108,108,108)"/>
<rect x="525.55" y="15.50" width="2.90" height="2.88" fill="rgb(123,123,123)"/>
<rect x="528.14" y="15.50" width="2.90" height="2.88" fill="rgb(141,141,141)"/>
<rect x="530.74" y="15.50" width="2.90" height="2.88" fill="rgb(125,125,125)"/>
<rect x="533.33" y="15.50" width="2.90" height="2.88" fill="rgb(205,205,205)"/>
<rect x="535.93" y="15.50" width="2.90" height="2.88" fill="rgb(124,124,124)"/>
<rect x="538.52" y="15.50" width="2.90" height="2.88" fill="rgb(166,166,166)"/>
<rect x="541.12" y="15.50" width="2.90" height="2.88" fill="rgb(167,167,167)"/>
<rect x="543.71" y="15.50" width="2.90" height="2.88" fill="rgb(147,147,147)"/>
<rect x="546.31" y="15.50" width="2.90" height="2.88" fill="rgb(106,106,106)"/>
<rect x="548.90" y="15.50" width="2.90" height="2.88" fill="rgb(158,158,158)"/>
<rect x="494.40" y="18.08" width="2.90" height="2.88" fill="rgb(172,172,172)"/>
<rect x="497.00" y="18.08" width="2.90" height="2.88" fill="rgb(147,147,147)"/>
<rect x="499.59" y="18.08" width="2.90" height="2.88" fill="rgb(142,142,142)"/>
<rect x="502.19" y="18.08" width="2.90" height="2.88" fill="rgb(71,71,71)"/>
<rect x="504.78" y="18.08" width="2.90" height="2.88" fill="rgb(106,106,106)"/>
<rect x="507.38" y="18.08" width="2.90" height="2.88" fill="rgb(135,135,135)"/>
<rect x="509.97" y="18.08" width="2.90" height="2.88" fill="rgb(147,147,147)"/>
<rect x="512.57" y="18.08" width="2.90" height="2.88" fill="rgb(166,166,166)"/>
<rect x="515.16" y="18.08" width="2.90" height="2.88" fill="rgb(131,131,131)"/>
<rect x="517.76" y="18.08" width="2.90" height="2.88" fill="rgb(147,147,147)"/>
<rect x="520.35" y="18.08" width="2.90" height="2.88" fill="rgb(108,108,108)"/>
<rect x="522.95" y="18.08" width="2.90" height="2.88" fill="rgb(162,162,162)"/>
<rect x="525.55" y="18.08" width="2.90" height="2.88" fill="rgb(165,165,165)"/>
<rect x="528.14" y="18.08" width="2.90" height="2.88" fill="rgb(138,138,138)"/>
<rect x="530.74" y="18.08" width="2.90" height="2.88" fill="rgb(173,173,173)"/>
<rect x="533.33" y="18.08" width="2.90" height="2.88" fill="rgb(132,132,132)"/>
<rect x="535.93" y="18.08" width="2.90" height="2.88" fill="rgb(125,125,125)"/>
<rect x="538.52" y="18.08" width="2.90" height="2.88" fill="rgb(132,132,132)"/>
<rect x="541.12" y="18.08" width="2.90" height="2.88" fill="rgb(206,206,206)"/>
<rect x="543.71" y="18.08" width="2.90" height="2.88" fill="rgb(89,89,89)"/>
<rect x="546.31" y="18.08" width="2.90" height="2.88" fill="rgb(148,148,148)"/>
<rect x="548.90" y="18.08" width="2.90" height="2.88" fill="rgb(130,130,130)"/>
<rect x="494.40" y="20.66" width="2.90" height="2.88" fill="rgb(145,145,145)"/>
<rect x="497.00" y="20.66" width="2.90" height="2.88" fill="rgb(94,94,94)"/>
<rect x="499.59" y="20.66" width="2.90" height="2.88" fill="rgb(165,165,165)"/>
<rect x="502.19" y="20.66" width="2.90" height="2.88" fill="rgb(163,163,163)"/>
<rect x="504.78" y="20.66" width="2.90" height="2.88" fill="rgb(133,133,133)"/>
<rect x="507.38" y="20.66" width="2.90" height="2.88" fill="rgb(128,128,128)"/>
<rect x="509.97" y="20.66" width="2.90" height="2.88" fill="rgb(144,144,144)"/>
<rect x="512.57" y="20.66" width="2.90" height="2.88" fill="rgb(172,172,172)"/>
<rect x="515.16" y="20.66" width="2.90" height="2.88" fill="rgb(92,92,92)"/>
<rect x="517.76" y="20.66" width="2.90" height="2.88" fill="rgb(187,187,187)"/>
<rect x="520.35" y="20.66" width="2.90" height="2.88" fill="rgb(132,132,132)"/>
<rect x="522.95" y="20.66" width="2.90" height="2.88" fill="rgb(169,169,169)"/>
<rect x="525.55" y="20.66" width="2.90" height="2.88" fill="rgb(115,115,115)"/>
<rect x="528.14" y="20.66" width="2.90" height="2.88" fill="rgb(205,205,205)"/>
<rect x="530.74" y="20.66" width="2.90" height="2.88" fill="rgb(151,151,151)"/>
<rect x="533.33" y="20.66" width="2.90" height="2.88" fill="rgb(199,199,199)"/>
<rect x="535.93" y="20.66" width="2.90" height="2.88" fill="rgb(122,122,122)"/>
<rect x="538.52" y="20.66" width="2.90" height="2.88" fill="rgb(121,121,121)"/>
<rect x="541.12" y="20.66" width="2.90" height="2.88" fill="rgb(179,179,179)"/>
<rect x="543.71" y="20.66" width="2.90" height="2.88" fill="rgb(165,165,165)"/>
<rect x="546.31" y="20.66" width="2.90" height="2.88" fill="rgb(154,154,154)"/>
<rect x="548.90" y="20.66" width="2.90" height="2.88" fill="rgb(183,183,183)"/>
<rect x="494.40" y="23.25" width="2.90" height="2.88" fill="rgb(156,156,156)"/>
<rect x="497.00" y="23.25" width="2.90" height="2.88" fill="rgb(132,132,132)"/>
<rect x="499.59" y="23.25" width="2.90" height="2.88" fill="rgb(82,82,82)"/>
<rect x="502.19" y="23.25" width="2.90" height="2.88" fill="rgb(70,70,70)"/>
<rect x="504.78" y="23.25" width="2.90" height="2.88" fill="rgb(164,164,164)"/>
<rect x="507.38" y="23.25" width="2.90" height="2.88" fill="rgb(161,161,161)"/>
<rect x="509.97" y="23.25" width="2.90" height="2.88" fill="rgb(114,114,114)"/>
<rect x="512.57" y="23.25" width="2.90" height="2.88" fill="rgb(160,160,160)"/>
<rect x="515.16" y="23.25" width="2.90" height="2.88" fill="rgb(136,136,136)"/>
<rect x="517.76" y="23.25" width="2.90" height="2.88" fill="rgb(144,144,144)"/>
<rect x="520.35" y="23.25" width="2.90" height="2.88" fill="rgb(174,174,174)"/>
<rect x="522.95" y="23.25" width="2.90" height="2.88" fill="rgb(92,92,92)"/>
<rect x="525.55" y="23.25" width="2.90" height="2.88" fill="rgb(154,154,154)"/>
<rect x="528.14" y="23.25" width="2.90" height="2.88" fill="rgb(160,160,160)"/>
<rect x="530.74" y="23.25" width="2.90" height="2.88" fill="rgb(137,137,137)"/>
<rect x="533.33" y="23.25" width="2.90" height="2.88" fill="rgb(148,148,148)"/>
<rect x="535.93" y="23.25" width="2.90" height="2.88" fill="rgb(106,106,106)"/>
<rect x="538.52" y="23.25" width="2.90" height="2.88" fill="rgb(148,148,148)"/>
<rect x="541.12" y="23.25" width="2.90" height="2.88" fill="rgb(164,164,164)"/>
<rect x="543.71" y="23.25" width="2.90" height="2.88" fill="rgb(168,168,168)"/>
<rect x="546.31" y="23.25" width="2.90" height="2.88" fill="rgb(121,121,121)"/>
<rect x="548.90" y="23.25" width="2.90" height="2.88" fill="rgb(169,169,169)"/>
<rect x="494.40" y="25.83" width="2.90" height="2.88" fill="rgb(153,153,153)"/>
<rect x="497.00" y="25.83" width="2.90" height="2.88" fill="rgb(165,165,165)"/>
<rect x="499.59" y="25.83" width="2.90" height="2.88" fill="rgb(142,142,142)"/>
<rect x="502.19" y="25.83" width="2.90" height="2.88" fill="rgb(164,164,164)"/>
<rect x="504.78" y="25.83" width="2.90" height="2.88" fill="rgb(150,150,150)"/>
<rect x="507.38" y="25.83" width="2.90" height="2.88" fill="rgb(220,220,220)"/>
<rect x="509.97" y="25.83" width="2.90" height="2.88" fill="rgb(133,133,133)"/>
<rect x="512.57" y="25.83" width="2.90" height="2.88" fill="rgb(180,180,180)"/>
<rect x="515.16" y="25.83" width="2.90" height="2.88" fill="rgb(142,142,142)"/>
<rect x="517.76" y="25.83" width="2.90" height="2.88" fill="rgb(95,95,95)"/>
<rect x="520.35" y="25.83" width="2.90" height="2.88" fill="rgb(158,158,158)"/>
<rect x="522.95" y="25.83" width="2.90" height="2.88" fill="rgb(182,182,182)"/>
<rect x="525.55" y="25.83" width="2.90" height="2.88" fill="rgb(167,167,167)"/>
<rect x="528.14" y="25.83" width="2.90" height="2.88" fill="rgb(168,168,168)"/>
<rect x="530.74" y="25.83" width="2.90" height="2.88" fill="rgb(117,117,117)"/>
<rect x="533.33" y="25.83" width="2.90" height="2.88" fill="rgb(153,153,153)"/>
<rect x="535.93" y="25.83" width="2.90" height="2.88" fill="rgb(98,98,98)"/>
<rect x="538.52" y="25.83" width="2.90" height="2.88" fill="rgb(200,200,200)"/>
<rect x="541.12" y="25.83" width="2.90" height="2.88" fill="rgb(193,193,193)"/>
<rect x="543.71" y="25.83" width="2.90" height="2.88" fill="rgb(109,109,109)"/>
<rect x="546.31" y="25.83" width="2.90" height="2.88" fill="rgb(130,130,130)"/>
<rect x="548.90" y="25.83" width="2.90" height="2.88" fill="rgb(103,103,103)"/>
<rect x="494.40" y="28.41" width="2.90" height="2.88" fill="rgb(119,119,119)"/>
<rect x="497.00" y="28.41" width="2.90" height="2.88" fill="rgb(129,129,129)"/>
<rect x="499.59" y="28.41" width="2.90" height="2.88" fill="rgb(105,105,105)"/>
<rect x="502.19" y="28.41" width="2.90" height="2.88" fill="rgb(128,128,128)"/>
<rect x="504.78" y="28.41" width="2.90" height="2.88" fill="rgb(163,163,163)"/>
<rect x="507.38" y="28.41" width="2.90" height="2.88" fill="rgb(134,134,134)"/>
<rect x="509.97" y="28.41" width="2.90" height="2.88" fill="rgb(166,166,166)"/>
<rect x="512.57" y="28.41" width="2.90" height="2.88" fill="rgb(137,137,137)"/>
<rect x="515.16" y="28.41" width="2.90" height="2.88" fill="rgb(146,146,146)"/>
<rect x="517.76" y="28.41" width="2.90" height="2.88" fill="rgb(102,102,102)"/>
<rect x="520.35" y="28.41" width="2.90" height="2.88" fill="rgb(173,173,173)"/>
<rect x="522.95" y="28.41" width="2.90" height="2.88" fill="rgb(106,106,106)"/>
<rect x="525.55" y="28.41" width="2.90" height="2.88" fill="rgb(131,131,131)"/>
<rect x="528.14" y="28.41" width="2.90" height="2.88" fill="rgb(101,101,101)"/>
<rect x="530.74" y="28.41" width="2.90" height="2.88" fill="rgb(159,159,159)"/>
<rect x="533.33" y="28.41" width="2.90" height="2.88" fill="rgb(109,109,109)"/>
<rect x="535.93" y="28.41" width="2.90" height="2.88" fill="rgb(161,161,161)"/>
<rect x="538.52" y="28.41" width="2.90" height="2.88" fill="rgb(205,205,205)"/>
<rect x="541.12" y="28.41" width="2.90" height="2.88" fill="rgb(154,154,154)"/>
<rect x="543.71" y="28.41" width="2.90" height="2.88" fill="rgb(70,70,70)"/>
<rect x="546.31" y="28.41" width="2.90" height="2.88" fill="rgb(175,175,175)"/>
<rect x="548.90" y="28.41" width="2.90" height="2.88" fill="rgb(148,148,148)"/>
<rect x="494.40" y="30.99" width="2.90" height="2.88" fill="rgb(163,163,163)"/>
<rect x="497.00" y="30.99" width="2.90" height="2.88" fill="rgb(156,156,156)"/>
<rect x="499.59" y="30.99" width="2.90" height="2.88" fill="rgb(180,180,180)"/>
<rect x="502.19" y="30.99" width="2.90" height="2.88" fill="rgb(176,176,176)"/>
<rect x="504.78" y="30.99" width="2.90" height="2.88" fill="rgb(141,141,141)"/>
<rect x="507.38" y="30.99" width="2.90" height="2.88" fill="rgb(103,103,103)"/>
<rect x="509.97" y="30.99" width="2.90" height="2.88" fill="rgb(140,140,140)"/>
<rect x="512.57" y="30.99" width="2.90" height="2.88" fill="rgb(168,168,168)"/>
<rect x="515.16" y="30.99" width="2.90" height="2.88" fill="rgb(83,83,83)"/>
<rect x="517.76" y="30.99" width="2.90" height="2.88" fill="rgb(148,148,148)"/>
<rect x="520.35" y="30.99" width="2.90" height="2.88" fill="rgb(85,85,85)"/>
<rect x="522.95" y="30.99" width="2.90" height="2.88" fill="rgb(179,179,179)"/>
<rect x="525.55" y="30.99" width="2.90" height="2.88" fill="rgb(203,203,203)"/>
<rect x="528.14" y="30.99" width="2.90" height="2.88" fill="rgb(172,172,172)"/>
<rect x="530.74" y="30.99" width="2.90" height="2.88" fill="rgb(130,130,130)"/>
<rect x="533.33" y="30.99" width="2.90" height="2.88" fill="rgb(169,169,169)"/>
<rect x="535.93" y="30.99" width="2.90" height="2.88" fill="rgb(187,187,187)"/>
<rect x="538.52" y="30.99" width="2.90" height="2.88" fill="rgb(198,198,198)"/>
<rect x="541.12" y="30.99" width="2.90" height="2.88" fill="rgb(190,190,190)"/>
<rect x="543.71" y="30.99" width="2.90" height="2.88" fill="rgb(179,179,179)"/>
<rect x="546.31" y="30.99" width="2.90" height="2.88" fill="rgb(112,112,112)"/>
<rect x="548.90" y="30.99" width="2.90" height="2.88" fill="rgb(140,140,140)"/>
<rect x="494.40" y="33.57" width="2.90" height="2.88" fill="rgb(159,159,159)"/>
<rect x="497.00" y="33.57" width="2.90" height="2.88" fill="rgb(145,145,145)"/>
<rect x="499.59" y="33.57" width="2.90" height="2.88" fill="rgb(80,80,80)"/>
<rect x="502.19" y="33.57" width="2.90" height="2.88" fill="rgb(138,138,138)"/>
<rect x="504.78" y="33.57" width="2.90" height="2.88" fill="rgb(121,121,121)"/>
<rect x="507.38" y="33.57" width="2.90" height="2.88" fill="rgb(150,150,150)"/>
<rect x="509.97" y="33.57" width="2.90" height="2.88" fill="rgb(155,155,155)"/>
<rect x="512.57" y="33.57" width="2.90" height="2.88" fill="rgb(97,97,97)"/>
<rect x="515.16" y="33.57" width="2.90" height="2.88" fill="rgb(119,119,119)"/>
<rect x="517.76" y="33.57" width="2.90" height="2.88" fill="rgb(149,149,149)"/>
<rect x="520.35" y="33.57" width="2.90" height="2.88" fill="rgb(109,109,109)"/>
<rect x="522.95" y="33.57" width="2.90" height="2.88" fill="rgb(142,142,142)"/>
<rect x="525.55" y="33.57" width="2.90" height="2.88" fill="rgb(116,116,116)"/>
<rect x="528.14" y="33.57" width="2.90" height="2.88" fill="rgb(120,120,120)"/>
<rect x="530.74" y="33.57" width="2.90" height="2.88" fill="rgb(172,172,172)"/>
<rect x="533.33" y="33.57" width="2.90" height="2.88" fill="rgb(139,139,139)"/>
<rect x="535.93" y="33.57" width="2.90" height="2.88" fill="rgb(125,125,125)"/>
<rect x="538.52" y="33.57" width="2.90" height="2.88" fill="rgb(193,193,193)"/>
<rect x="541.12" y="33.57" width="2.90" height="2.88" fill="rgb(133,133,133)"/>
<rect x="543.71" y="33.57" width="2.90" height="2.88" fill="rgb(142,142,142)"/>
<rect x="546.31" y="33.57" width="2.90" height="2.88" fill="rgb(144,144,144)"/>
<rect x="548.90" y="33.57" width="2.90" height="2.88" fill="rgb(220,220,220)"/>
<rect x="494.40" y="36.15" width="2.90" height="2.88" fill="rgb(163,163,163)"/>
<rect x="497.00" y="36.15" width="2.90" height="2.88" fill="rgb(171,171,171)"/>
<rect x="499.59" y="36.15" width="2.90" height="2.88" fill="rgb(131,131,131)"/>
<rect x="502.19" y="36.15" width="2.90" height="2.88" fill="rgb(170,170,170)"/>
<rect x="504.78" y="36.15" width="2.90" height="2.88" fill="rgb(179,179,179)"/>
<rect x="507.38" y="36.15" width="2.90" height="2.88" fill="rgb(105,105,105)"/>
<rect x="509.97" y="36.15" width="2.90" height="2.88" fill="rgb(157,157,157)"/>
<rect x="512.57" y="36.15" width="2.90" height="2.88" fill="rgb(196,196,196)"/>
<rect x="515.16" y="36.15" width="2.90" height="2.88" fill="rgb(202,202,202)"/>
<rect x="517.76" y="36.15" width="2.90" height="2.88" fill="rgb(151,151,151)"/>
<rect x="520.35" y="36.15" width="2.90" height="2.88" fill="rgb(218,218,218)"/>
<rect x="522.95" y="36.15" width="2.90" height="2.88" fill="rgb(121,121,121)"/>
<rect x="525.55" y="36.15" width="2.90" height="2.88" fill="rgb(177,177,177)"/>
<rect x="528.14" y="36.15" width="2.90" height="2.88" fill="rgb(161,161,161)"/>
<rect x="530.74" y="36.15" width="2.90" height="2.88" fill="rgb(109,109,109)"/>
<rect x="533.33" y="36.15" width="2.90" height="2.88" fill="rgb(176,176,176)"/>
<rect x="535.93" y="36.15" width="2.90" height="2.88" fill="rgb(102,102,102)"/>
<rect x="538.52" y="36.15" width="2.90" height="2.88" fill="rgb(122,122,122)"/>
<rect x="541.12" y="36.15" width="2.90" height="2.88" fill="rgb(141,141,141)"/>
<rect x="543.71" y="36.15" width="2.90" height="2.88" fill="rgb(105,105,105)"/>
<rect x="546.31" y="36.15" width="2.90" height="2.88" fill="rgb(182,182,182)"/>
<rect x="548.90" y="36.15" width="2.90" height="2.88" fill="rgb(129,129,129)"/>
<rect x="494.40" y="38.74" width="2.90" height="2.88" fill="rgb(103,103,103)"/>
<rect x="497.00" y="38.74" width="2.90" height="2.88" fill="rgb(152,152,152)"/>
<rect x="499.59" y="38.74" width="2.90" height="2.88" fill="rgb(143,143,143)"/>
<rect x="502.19" y="38.74" width="2.90" height="2.88" fill="rgb(108,108,108)"/>
<rect x="504.78" y="38.74" width="2.90" height="2.88" fill="rgb(126,126,126)"/>
<rect x="507.38" y="38.74" width="2.90" height="2.88" fill="rgb(173,173,173)"/>
<rect x="509.97" y="38.74" width="2.90" height="2.88" fill="rgb(170,170,170)"/>
<rect x="512.57" y="38.74" width="2.90" height="2.88" fill="rgb(92,92,92)"/>
<rect x="515.16" y="38.74" width="2.90" height="2.88" fill="rgb(175,175,175)"/>
<rect x="517.76" y="38.74" width="2.90" height="2.88" fill="rgb(175,175,175)"/>
<rect x="520.35" y="38.74" width="2.90" height="2.88" fill="rgb(181,181,181)"/>
<rect x="522.95" y="38.74" width="2.90" height="2.88" fill="rgb(128,128,128)"/>
<rect x="525.55" y="38.74" width="2.90" height="2.88" fill="rgb(119,119,119)"/>
<rect x="528.14" y="38.74" width="2.90" height="2.88" fill="rgb(141,141,141)"/>
<rect x="530.74" y="38.74" width="2.90" height="2.88" fill="rgb(123,123,123)"/>
<rect x="533.33" y="38.74" width="2.90" height="2.88" fill="rgb(136,136,136)"/>
<rect x="535.93" y="38.74" width="2.90" height="2.88" fill="rgb(125,125,125)"/>
<rect x="538.52" y="38.74" width="2.90" height="2.88" fill="rgb(135,135,135)"/>
<rect x="541.12" y="38.74" width="2.90" height="2.88" fill="rgb(128,128,128)"/>
<rect x="543.71" y="38.74" width="2.90" height="2.88" fill="rgb(145,145,145)"/>
<rect x="546.31" y="38.74" width="2.90" height="2.88" fill="rgb(149,149,149)"/>
<rect x="548.90" y="38.74" width="2.90" height="2.88" fill="rgb(136,136,136)"/>
<rect x="494.40" y="41.32" width="2.90" height="2.88" fill="rgb(126,126,126)"/>
<rect x="497.00" y="41.32" width="2.90" height="2.88" fill="rgb(196,196,196)"/>
<rect x="499.59" y="41.32" width="2.90" height="2.88" fill="rgb(174,174,174)"/>
<rect x="502.19" y="41.32" width="2.90" height="2.88" fill="rgb(160,160,160)"/>
<rect x="504.78" y="41.32" width="2.90" height="2.88" fill="rgb(116,116,116)"/>
<rect x="507.38" y="41.32" width="2.90" height="2.88" fill="rgb(164,164,164)"/>
<rect x="509.97" y="41.32" width="2.90" height="2.88" fill="rgb(139,139,139)"/>
<rect x="512.57" y="41.32" width="2.90" height="2.88" fill="rgb(163,163,163)"/>
<rect x="515.16" y="41.32" width="2.90" height="2.88" fill="rgb(152,152,152)"/>
<rect x="517.76" y="41.32" width="2.90" height="2.88" fill="rgb(220,220,220)"/>
<rect x="520.35" y="41.32" width="2.90" height="2.88" fill="rgb(145,145,145)"/>
<rect x="522.95" y="41.32" width="2.90" height="2.88" fill="rgb(111,111,111)"/>
<rect x="525.55" y="41.32" width="2.90" height="2.88" fill="rgb(179,179,179)"/>
<rect x="528.14" y="41.32" width="2.90" height="2.88" fill="rgb(181,181,181)"/>
<rect x="530.74" y="41.32" width="2.90" height="2.88" fill="rgb(187,187,187)"/>
<rect x="533.33" y="41.32" width="2.90" height="2.88" fill="rgb(70,70,70)"/>
<rect x="535.93" y="41.32" width="2.90" height="2.88" fill="rgb(113,113,113)"/>
<rect x="538.52" y="41.32" width="2.90" height="2.88" fill="rgb(117,117,117)"/>
<rect x="541.12" y="41.32" width="2.90" height="2.88" fill="rgb(90,90,90)"/>
<rect x="543.71" y="41.32" width="2.90" height="2.88" fill="rgb(147,147,147)"/>
<rect x="546.31" y="41.32" width="2.90" height="2.88" fill="rgb(165,165,165)"/>
<rect x="548.90" y="41.32" width="2.90" height="2.88" fill="rgb(178,178,178)"/>
<rect x="494.40" y="43.90" width="2.90" height="2.88" fill="rgb(173,173,173)"/>
<rect x="497.00" y="43.90" width="2.90" height="2.88" fill="rgb(144,144,144)"/>
<rect x="499.59" y="43.90" width="2.90" height="2.88" fill="rgb(193,193,193)"/>
<rect x="502.19" y="43.90" width="2.90" height="2.88" fill="rgb(151,151,151)"/>
<rect x="504.78" y="43.90" width="2.90" height="2.88" fill="rgb(70,70,70)"/>
<rect x="507.38" y="43.90" width="2.90" height="2.88" fill="rgb(132,132,132)"/>
<rect x="509.97" y="43.90" width="2.90" height="2.88" fill="rgb(118,118,118)"/>
<rect x="512.57" y="43.90" width="2.90" height="2.88" fill="rgb(153,153,153)"/>
<rect x="515.16" y="43.90" width="2.90" height="2.88" fill="rgb(128,128,128)"/>
<rect x="517.76" y="43.90" width="2.90" height="2.88" fill="rgb(131,131,131)"/>
<rect x="520.35" y="43.90" width="2.90" height="2.88" fill="rgb(187,187,187)"/>
<rect x="522.95" y="43.90" width="2.90" height="2.88" fill="rgb(117,117,117)"/>
<rect x="525.55" y="43.90" width="2.90" height="2.88" fill="rgb(97,97,97)"/>
<rect x="528.14" y="43.90" width="2.90" height="2.88" fill="rgb(149,149,149)"/>
<rect x="530.74" y="43.90" width="2.90" height="2.88" fill="rgb(162,162,162)"/>
<rect x="533.33" y="43.90" width="2.90" height="2.88" fill="rgb(138,138,138)"/>
<rect x="535.93" y="43.90" width="2.90" height="2.88" fill="rgb(141,141,141)"/>
<rect x="538.52" y="43.90" width="2.90" height="2.88" fill="rgb(122,122,122)"/>
<rect x="541.12" y="43.90" width="2.90" height="2.88" fill="rgb(98,98,98)"/>
<rect x="543.71" y="43.90" width="2.90" height="2.88" fill="rgb(116,116,116)"/>
<rect x="546.31" y="43.90" width="2.90" height="2.88" fill="rgb(106,106,106)"/>
<rect x="548.90" y="43.90" width="2.90" height="2.88" fill="rgb(181,181,181)"/>
<rect x="494.40" y="46.48" width="2.90" height="2.88" fill="rgb(132,132,132)"/>
<rect x="497.00" y="46.48" width="2.90" height="2.88" fill="rgb(187,187,187)"/>
<rect x="499.59" y="46.48" width="2.90" height="2.88" fill="rgb(136,136,136)"/>
<rect x="502.19" y="46.48" width="2.90" height="2.88" fill="rgb(111,111,111)"/>
<rect x="504.78" y="46.48" width="2.90" height="2.88" fill="rgb(147,147,147)"/>
<rect x="507.38" y="46.48" width="2.90" height="2.88" fill="rgb(147,147,147)"/>
<rect x="509.97" y="46.48" width="2.90" height="2.88" fill="rgb(184,184,184)"/>
<rect x="512.57" y="46.48" width="2.90" height="2.88" fill="rgb(75,75,75)"/>
<rect x="515.16" y="46.48" width="2.90" height="2.88" fill="rgb(127,127,127)"/>
<rect x="517.76" y="46.48" width="2.90" height="2.88" fill="rgb(154,154,154)"/>
<rect x="520.35" y="46.48" width="2.90" height="2.88" fill="rgb(116,116,116)"/>
<rect x="522.95" y="46.48" width="2.90" height="2.88" fill="rgb(144,144,144)"/>
<rect x="525.55" y="46.48" width="2.90" height="2.88" fill="rgb(131,131,131)"/>
<rect x="528.14" y="46.48" width="2.90" height="2.88" fill="rgb(187,187,187)"/>
<rect x="530.74" y="46.48" width="2.90" height="2.88" fill="rgb(182,182,182)"/>
<rect x="533.33" y="46.48" width="2.90" height="2.88" fill="rgb(74,74,74)"/>
<rect x="535.93" y="46.48" width="2.90" height="2.88" fill="rgb(90,90,90)"/>
<rect x="538.52" y="46.48" width="2.90" height="2.88" fill="rgb(115,115,115)"/>
<rect x="541.12" y="46.48" width="2.90" height="2.88" fill="rgb(138,138,138)"/>
<rect x="543.71" y="46.48" width="2.90" height="2.88" fill="rgb(135,135,135)"/>
<rect x="546.31" y="46.48" width="2.90" height="2.88" fill="rgb(124,124,124)"/>
<rect x="548.90" y="46.48" width="2.90" height="2.88" fill="rgb(160,160,160)"/>
<rect x="494.40" y="49.06" width="2.90" height="2.88" fill="rgb(169,169,169)"/>
<rect x="497.00" y="49.06" width="2.90" height="2.88" fill="rgb(144,144,144)"/>
<rect x="499.59" y="49.06" width="2.90" height="2.88" fill="rgb(131,131,131)"/>
<rect x="502.19" y="49.06" width="2.90" height="2.88" fill="rgb(142,142,142)"/>
<rect x="504.78" y="49.06" width="2.90" height="2.88" fill="rgb(114,114,114)"/>
<rect x="507.38" y="49.06" width="2.90" height="2.88" fill="rgb(168,168,168)"/>
<rect x="509.97" y="49.06" width="2.90" height="2.88" fill="rgb(168,168,168)"/>
<rect x="512.57" y="49.06" width="2.90" height="2.88" fill="rgb(111,111,111)"/>
<rect x="515.16" y="49.06" width="2.90" height="2.88" fill="rgb(188,188,188)"/>
<rect x="517.76" y="49.06" width="2.90" height="2.88" fill="rgb(139,139,139)"/>
<rect x="520.35" y="49.06" width="2.90" height="2.88" fill="rgb(168,168,168)"/>
<rect x="522.95" y="49.06" width="2.90" height="2.88" fill="rgb(141,141,141)"/>
<rect x="525.55" y="49.06" width="2.90" height="2.88" fill="rgb(135,135,135)"/>
<rect x="528.14" y="49.06" width="2.90" height="2.88" fill="rgb(164,164,164)"/>
<rect x="530.74" y="49.06" width="2.90" height="2.88" fill="rgb(109,109,109)"/>
<rect x="533.33" y="49.06" width="2.90" height="2.88" fill="rgb(133,133,133)"/>
<rect x="535.93" y="49.06" width="2.90" height="2.88" fill="rgb(102,102,102)"/>
<rect x="538.52" y="49.06" width="2.90" height="2.88" fill="rgb(157,157,157)"/>
<rect x="541.12" y="49.06" width="2.90" height="2.88" fill="rgb(134,134,134)"/>
<rect x="543.71" y="49.06" width="2.90" height="2.88" fill="rgb(131,131,131)"/>
<rect x="546.31" y="49.06" width="2.90" height="2.88" fill="rgb(124,124,124)"/>
<rect x="548.90" y="49.06" width="2.90" height="2.88" fill="rgb(162,162,162)"/>
<rect x="494.40" y="51.65" width="2.90" height="2.88" fill="rgb(150,150,150)"/>
<rect x="497.00" y="51.65" width="2.90" height="2.88" fill="rgb(134,134,134)"/>
<rect x="499.59" y="51.65" width="2.90" height="2.88" fill="rgb(126,126,126)"/>
<rect x="502.19" y="51.65" width="2.90" height="2.88" fill="rgb(199,199,199)"/>
<rect x="504.78" y="51.65" width="2.90" height="2.88" fill="rgb(190,190,190)"/>
<rect x="507.38" y="51.65" width="2.90" height="2.88" fill="rgb(105,105,105)"/>
<rect x="509.97" y="51.65" width="2.90" height="2.88" fill="rgb(180,180,180)"/>
<rect x="512.57" y="51.65" width="2.90" height="2.88" fill="rgb(158,158,158)"/>
<rect x="515.16" y="51.65" width="2.90" height="2.88" fill="rgb(151,151,151)"/>
<rect x="517.76" y="51.65" width="2.90" height="2.88" fill="rgb(155,155,155)"/>
<rect x="520.35" y="51.65" width="2.90" height="2.88" fill="rgb(97,97,97)"/>
<rect x="522.95" y="51.65" width="2.90" height="2.88" fill="rgb(220,220,220)"/>
<rect x="525.55" y="51.65" width="2.90" height="2.88" fill="rgb(208,208,208)"/>
<rect x="528.14" y="51.65" width="2.90" height="2.88" fill="rgb(143,143,143)"/>
<rect x="530.74" y="51.65" width="2.90" height="2.88" fill="rgb(142,142,142)"/>
<rect x="533.33" y="51.65" width="2.90" height="2.88" fill="rgb(146,146,146)"/>
<rect x="535.93" y="51.65" width="2.90" height="2.88" fill="rgb(120,120,120)"/>
<rect x="538.52" y="51.65" width="2.90" height="2.88" fill="rgb(159,159,159)"/>
<rect x="541.12" y="51.65" width="2.90" height="2.88" fill="rgb(140,140,140)"/>
<rect x="543.71" y="51.65" width="2.90" height="2.88" fill="rgb(106,106,106)"/>
<rect x="546.31" y="51.65" width="2.90" height="2.88" fill="rgb(125,125,125)"/>
<rect x="548.90" y="51.65" width="2.90" height="2.88" fill="rgb(120,120,120)"/>
<rect x="494.40" y="54.23" width="2.90" height="2.88" fill="rgb(121,121,121)"/>
<rect x="497.00" y="54.23" width="2.90" height="2.88" fill="rgb(130,130,130)"/>
<rect x="499.59" y="54.23" width="2.90" height="2.88" fill="rgb(161,161,161)"/>
<rect x="502.19" y="54.23" width="2.90" height="2.88" fill="rgb(127,127,127)"/>
<rect x="504.78" y="54.23" width="2.90" height="2.88" fill="rgb(88,88,88)"/>
<rect x="507.38" y="54.23" width="2.90" height="2.88" fill="rgb(187,187,187)"/>
<rect x="509.97" y="54.23" width="2.90" height="2.88" fill="rgb(121,121,121)"/>
<rect x="512.57" y="54.23" width="2.90" height="2.88" fill="rgb(187,187,187)"/>
<rect x="515.16" y="54.23" width="2.90" height="2.88" fill="rgb(148,148,148)"/>
<rect x="517.76" y="54.23" width="2.90" height="2.88" fill="rgb(158,158,158)"/>
<rect x="520.35" y="54.23" width="2.90" height="2.88" fill="rgb(113,113,113)"/>
<rect x="522.95" y="54.23" width="2.90" height="2.88" fill="rgb(144,144,144)"/>
<rect x="525.55" y="54.23" width="2.90" height="2.88" fill="rgb(128,128,128)"/>
<rect x="528.14" y="54.23" width="2.90" height="2.88" fill="rgb(139,139,139)"/>
<rect x="530.74" y="54.23" width="2.90" height="2.88" fill="rgb(156,156,156)"/>
<rect x="533.33" y="54.23" width="2.90" height="2.88" fill="rgb(128,128,128)"/>
<rect x="535.93" y="54.23" width="2.90" height="2.88" fill="rgb(167,167,167)"/>
<rect x="538.52" y="54.23" width="2.90" height="2.88" fill="rgb(95,95,95)"/>
<rect x="541.12" y="54.23" width="2.90" height="2.88" fill="rgb(106,106,106)"/>
<rect x="543.71" y="54.23" width="2.90" height="2.88" fill="rgb(154,154,154)"/>
<rect x="546.31" y="54.23" width="2.90" height="2.88" fill="rgb(157,157,157)"/>
<rect x="548.90" y="54.23" width="2.90" height="2.88" fill="rgb(175,175,175)"/>
<rect x="494.40" y="56.81" width="2.90" height="2.88" fill="rgb(193,193,193)"/>
<rect x="497.00" y="56.81" width="2.90" height="2.88" fill="rgb(155,155,155)"/>
<rect x="499.59" y="56.81" width="2.90" height="2.88" fill="rgb(165,165,165)"/>
<rect x="502.19" y="56.81" width="2.90" height="2.88" fill="rgb(149,149,149)"/>
<rect x="504.78" y="56.81" width="2.90" height="2.88" fill="rgb(146,146,146)"/>
<rect x="507.38" y="56.81" width="2.90" height="2.88" fill="rgb(138,138,138)"/>
<rect x="509.97" y="56.81" width="2.90" height="2.88" fill="rgb(145,145,145)"/>
<rect x="512.57" y="56.81" width="2.90" height="2.88" fill="rgb(123,123,123)"/>
<rect x="515.16" y="56.81" width="2.90" height="2.88" fill="rgb(136,136,136)"/>
<rect x="517.76" y="56.81" width="2.90" height="2.88" fill="rgb(167,167,167)"/>
<rect x="520.35" y="56.81" width="2.90" height="2.88" fill="rgb(157,157,157)"/>
<rect x="522.95" y="56.81" width="2.90" height="2.88" fill="rgb(178,178,178)"/>
<rect x="525.55" y="56.81" width="2.90" height="2.88" fill="rgb(126,126,126)"/>
<rect x="528.14" y="56.81" width="2.90" height="2.88" fill="rgb(130,130,130)"/>
<rect x="530.74" y="56.81" width="2.90" height="2.88" fill="rgb(155,155,155)"/>
<rect x="533.33" y="56.81" width="2.90" height="2.88" fill="rgb(114,114,114)"/>
<rect x="535.93" y="56.81" width="2.90" height="2.88" fill="rgb(112,112,112)"/>
<rect x="538.52" y="56.81" width="2.90" height="2.88" fill="rgb(161,161,161)"/>
<rect x="541.12" y="56.81" width="2.90" height="2.88" fill="rgb(131,131,131)"/>
<rect x="543.71" y="56.81" width="2.90" height="2.88" fill="rgb(169,169,169)"/>
<rect x="546.31" y="56.81" width="2.90" height="2.88" fill="rgb(144,144,144)"/>
<rect x="548.90" y="56.81" width="2.90" height="2.88" fill="rgb(127,127,127)"/>
<rect x="494.40" y="59.39" width="2.90" height="2.88" fill="rgb(107,107,107)"/>
<rect x="497.00" y="59.39" width="2.90" height="2.88" fill="rgb(179,179,179)"/>
<rect x="499.59" y="59.39" width="2.90" height="2.88" fill="rgb(138,138,138)"/>
<rect x="502.19" y="59.39" width="2.90" height="2.88" fill="rgb(112,112,112)"/>
<rect x="504.78" y="59.39" width="2.90" height="2.88" fill="rgb(92,92,92)"/>
<rect x="507.38" y="59.39" width="2.90" height="2.88" fill="rgb(100,100,100)"/>
<rect x="509.97" y="59.39" width="2.90" height="2.88" fill="rgb(127,127,127)"/>
<rect x="512.57" y="59.39" width="2.90" height="2.88" fill="rgb(180,180,180)"/>
<rect x="515.16" y="59.39" width="2.90" height="2.88" fill="rgb(110,110,110)"/>
<rect x="517.76" y="59.39" width="2.90" height="2.88" fill="rgb(149,149,149)"/>
<rect x="520.35" y="59.39" width="2.90" height="2.88" fill="rgb(147,147,147)"/>
<rect x="522.95" y="59.39" width="2.90" height="2.88" fill="rgb(70,70,70)"/>
<rect x="525.55" y="59.39" width="2.90" height="2.88" fill="rgb(98,98,98)"/>
<rect x="528.14" y="59.39" width="2.90" height="2.88" fill="rgb(165,165,165)"/>
<rect x="530.74" y="59.39" width="2.90" height="2.88" fill="rgb(73,73,73)"/>
<rect x="533.33" y="59.39" width="2.90" height="2.88" fill="rgb(175,175,175)"/>
<rect x="535.93" y="59.39" width="2.90" height="2.88" fill="rgb(139,139,139)"/>
<rect x="538.52" y="59.39" width="2.90" height="2.88" fill="rgb(84,84,84)"/>
<rect x="541.12" y="59.39" width="2.90" height="2.88" fill="rgb(199,199,199)"/>
<rect x="543.71" y="59.39" width="2.90" height="2.88" fill="rgb(134,134,134)"/>
<rect x="546.31" y="59.39" width="2.90" height="2.88" fill="rgb(190,190,190)"/>
<rect x="548.90" y="59.39" width="2.90" height="2.88" fill="rgb(145,145,145)"/>
<rect x="494.40" y="61.97" width="2.90" height="2.88" fill="rgb(114,114,114)"/>
<rect x="497.00" y="61.97" width="2.90" height="2.88" fill="rgb(175,175,175)"/>
<rect x="499.59" y="61.97" width="2.90" height="2.88" fill="rgb(196,196,196)"/>
<rect x="502.19" y="61.97" width="2.90" height="2.88" fill="rgb(180,180,180)"/>
<rect x="504.78" y="61.97" width="2.90" height="2.88" fill="rgb(100,100,100)"/>
<rect x="507.38" y="61.97" width="2.90" height="2.88" fill="rgb(158,158,158)"/>
<rect x="509.97" y="61.97" width="2.90" height="2.88" fill="rgb(100,100,100)"/>
<rect x="512.57" y="61.97" width="2.90" height="2.88" fill="rgb(119,119,119)"/>
<rect x="515.16" y="61.97" width="2.90" height="2.88" fill="rgb(182,182,182)"/>
<rect x="517.76" y="61.97" width="2.90" height="2.88" fill="rgb(92,92,92)"/>
<rect x="520.35" y="61.97" width="2.90" height="2.88" fill="rgb(219,219,219)"/>
<rect x="522.95" y="61.97" width="2.90" height="2.88" fill="rgb(88,88,88)"/>
<rect x="525.55" y="61.97" width="2.90" height="2.88" fill="rgb(96,96,96)"/>
<rect x="528.14" y="61.97" width="2.90" height="2.88" fill="rgb(163,163,163)"/>
<rect x="530.74" y="61.97" width="2.90" height="2.88" fill="rgb(131,131,131)"/>
<rect x="533.33" y="61.97" width="2.90" height="2.88" fill="rgb(133,133,133)"/>
<rect x="535.93" y="61.97" width="2.90" height="2.88" fill="rgb(108,108,108)"/>
<rect x="538.52" y="61.97" width="2.90" height="2.88" fill="rgb(162,162,162)"/>
<rect x="541.12" y="61.97" width="2.90" height="2.88" fill="rgb(145,145,145)"/>
<rect x="543.71" y="61.97" width="2.90" height="2.88" fill="rgb(135,135,135)"/>
<rect x="546.31" y="61.97" width="2.90" height="2.88" fill="rgb(112,112,112)"/>
<rect x="548.90" y="61.97" width="2.90" height="2.88" fill="rgb(89,89,89)"/>
<rect x="494.40" y="64.55" width="2.90" height="2.88" fill="rgb(138,138,138)"/>
<rect x="497.00" y="64.55" width="2.90" height="2.88" fill="rgb(70,70,70)"/>
<rect x="499.59" y="64.55" width="2.90" height="2.88" fill="rgb(117,117,117)"/>
<rect x="502.19" y="64.55" width="2.90" height="2.88" fill="rgb(158,158,158)"/>
<rect x="504.78" y="64.55" width="2.90" height="2.88" fill="rgb(160,160,160)"/>
<rect x="507.38" y="64.55" width="2.90" height="2.88" fill="rgb(125,125,125)"/>
<rect x="509.97" y="64.55" width="2.90" height="2.88" fill="rgb(70,70,70)"/>
<rect x="512.57" y="64.55" width="2.90" height="2.88" fill="rgb(156,156,156)"/>
<rect x="515.16" y="64.55" width="2.90" height="2.88" fill="rgb(167,167,167)"/>
<rect x="517.76" y="64.55" width="2.90" height="2.88" fill="rgb(140,140,140)"/>
<rect x="520.35" y="64.55" width="2.90" height="2.88" fill="rgb(180,180,180)"/>
<rect x="522.95" y="64.55" width="2.90" height="2.88" fill="rgb(171,171,171)"/>
<rect x="525.55" y="64.55" width="2.90" height="2.88" fill="rgb(83,83,83)"/>
<rect x="528.14" y="64.55" width="2.90" height="2.88" fill="rgb(131,131,131)"/>
<rect x="530.74" y="64.55" width="2.90" height="2.88" fill="rgb(122,122,122)"/>
<rect x="533.33" y="64.55" width="2.90" height="2.88" fill="rgb(189,189,189)"/>
<rect x="535.93" y="64.55" width="2.90" height="2.88" fill="rgb(173,173,173)"/>
<rect x="538.52" y="64.55" width="2.90" height="2.88" fill="rgb(142,142,142)"/>
<rect x="541.12" y="64.55" width="2.90" height="2.88" fill="rgb(157,157,157)"/>
<rect x="543.71" y="64.55" width="2.90" height="2.88" fill="rgb(167,167,167)"/>
<rect x="546.31" y="64.55" width="2.90" height="2.88" fill="rgb(115,115,115)"/>
<rect x="548.90" y="64.55" width="2.90" height="2.88" fill="rgb(132,132,132)"/>
<rect x="494.40" y="67.14" width="2.90" height="2.88" fill="rgb(135,135,135)"/>
<rect x="497.00" y="67.14" width="2.90" height="2.88" fill="rgb(124,124,124)"/>
<rect x="499.59" y="67.14" width="2.90" height="2.88" fill="rgb(128,128,128)"/>
<rect x="502.19" y="67.14" width="2.90" height="2.88" fill="rgb(146,146,146)"/>
<rect x="504.78" y="67.14" width="2.90" height="2.88" fill="rgb(96,96,96)"/>
<rect x="507.38" y="67.14" width="2.90" height="2.88" fill="rgb(101,101,101)"/>
<rect x="509.97" y="67.14" width="2.90" height="2.88" fill="rgb(164,164,164)"/>
<rect x="512.57" y="67.14" width="2.90" height="2.88" fill="rgb(188,188,188)"/>
<rect x="515.16" y="67.14" width="2.90" height="2.88" fill="rgb(199,199,199)"/>
<rect x="517.76" y="67.14" width="2.90" height="2.88" fill="rgb(81,81,81)"/>
<rect x="520.35" y="67.14" width="2.90" height="2.88" fill="rgb(150,150,150)"/>
<rect x="522.95" y="67.14" width="2.90" height="2.88" fill="rgb(111,111,111)"/>
<rect x="525.55" y="67.14" width="2.90" height="2.88" fill="rgb(120,120,120)"/>
<rect x="528.14" y="67.14" width="2.90" height="2.88" fill="rgb(131,131,131)"/>
<rect x="530.74" y="67.14" width="2.90" height="2.88" fill="rgb(151,151,151)"/>
<rect x="533.33" y="67.14" width="2.90" height="2.88" fill="rgb(156,156,156)"/>
<rect x="535.93" y="67.14" width="2.90" height="2.88" fill="rgb(70,70,70)"/>
<rect x="538.52" y="67.14" width="2.90" height="2.88" fill="rgb(118,118,118)"/>
<rect x="541.12" y="67.14" width="2.90" height="2.88" fill="rgb(173,173,173)"/>
<rect x="543.71" y="67.14" width="2.90" height="2.88" fill="rgb(142,142,142)"/>
<rect x="546.31" y="67.14" width="2.90" height="2.88" fill="rgb(85,85,85)"/>
<rect x="548.90" y="67.14" width="2.90" height="2.88" fill="rgb(106,106,106)"/>
<rect x="494.40" y="69.72" width="2.90" height="2.88" fill="rgb(111,111,111)"/>
<rect x="497.00" y="69.72" width="2.90" height="2.88" fill="rgb(171,171,171)"/>
<rect x="499.59" y="69.72" width="2.90" height="2.88" fill="rgb(195,195,195)"/>
<rect x="502.19" y="69.72" width="2.90" height="2.88" fill="rgb(102,102,102)"/>
<rect x="504.78" y="69.72" width="2.90" height="2.88" fill="rgb(154,154,154)"/>
<rect x="507.38" y="69.72" width="2.90" height="2.88" fill="rgb(128,128,128)"/>
<rect x="509.97" y="69.72" width="2.90" height="2.88" fill="rgb(156,156,156)"/>
<rect x="512.57" y="69.72" width="2.90" height="2.88" fill="rgb(130,130,130)"/>
<rect x="515.16" y="69.72" width="2.90" height="2.88" fill="rgb(101,101,101)"/>
<rect x="517.76" y="69.72" width="2.90" height="2.88" fill="rgb(116,116,116)"/>
<rect x="520.35" y="69.72" width="2.90" height="2.88" fill="rgb(116,116,116)"/>
<rect x="522.95" y="69.72" width="2.90" height="2.88" fill="rgb(185,185,185)"/>
<rect x="525.55" y="69.72" width="2.90" height="2.88" fill="rgb(113,113,113)"/>
<rect x="528.14" y="69.72" width="2.90" height="2.88" fill="rgb(155,155,155)"/>
<rect x="530.74" y="69.72" width="2.90" height="2.88" fill="rgb(110,110,110)"/>
<rect x="533.33" y="69.72" width="2.90" height="2.88" fill="rgb(115,115,115)"/>
<rect x="535.93" y="69.72" width="2.90" height="2.88" fill="rgb(144,144,144)"/>
<rect x="538.52" y="69.72" width="2.90" height="2.88" fill="rgb(118,118,118)"/>
<rect x="541.12" y="69.72" width="2.90" height="2.88" fill="rgb(201,201,201)"/>
<rect x="543.71" y="69.72" width="2.90" height="2.88" fill="rgb(180,180,180)"/>
<rect x="546.31" y="69.72" width="2.90" height="2.88" fill="rgb(100,100,100)"/>
<rect x="548.90" y="69.72" width="2.90" height="2.88" fill="rgb(154,154,154)"/>
<circle cx="511.4" cy="20.0" r="3" fill="rgb(215,215,215)"/>
<circle cx="505.4" cy="24.5" r="4" fill="rgb(180,180,180)"/>
<circle cx="518.9" cy="22.0" r="3" fill="rgb(110,110,110)"/>
<circle cx="528.4" cy="28.0" r="3" fill="rgb(105,105,105)"/>
<circle cx="508.0" cy="29.1" r="3" fill="rgb(120,120,120)"/>
<circle cx="541.4" cy="53.5" r="4" fill="rgb(190,190,190)"/>
<circle cx="528.4" cy="60.5" r="3" fill="rgb(110,110,110)"/>
<circle cx="523.9" cy="51.5" r="3" fill="rgb(105,105,105)"/>
<circle cx="542.0" cy="45.0" r="3" fill="rgb(95,95,95)"/>
<circle cx="546.4" cy="67.5" r="3" fill="rgb(200,200,200)"/>
<circle cx="502.4" cy="65.5" r="4" fill="rgb(165,165,165)"/>
<circle cx="514.4" cy="45.5" r="3" fill="rgb(160,160,160)"/>
<circle cx="497.4" cy="40.5" r="3" fill="rgb(175,175,175)"/>
<circle cx="534.4" cy="70.5" r="3" fill="rgb(120,120,120)"/>
<circle cx="520.4" cy="67.5" r="3" fill="rgb(130,130,130)"/>
<circle cx="544.4" cy="25.5" r="3" fill="rgb(165,165,165)"/>
<rect x="494.4" y="15.5" width="1.6" height="56.8" fill="#666"/>
</g>
<ellipse cx="523.6" cy="44.6" rx="8" ry="5.8" fill="#333" filter="url(#blur2)"/><ellipse cx="523.6" cy="44.8" rx="6.4" ry="4.8" fill="#000" filter="url(#blur2)"/>
<circle cx="535.8" cy="32.0" r="2.6" fill="#fff" opacity="0.9" filter="url(#blur2)"/>
<circle cx="536.8" cy="37.0" r="1.9" fill="#111" opacity="0.85" filter="url(#blur2)"/>
<ellipse cx="523.8" cy="44.6" rx="8.7" ry="6.0" fill="none" stroke="#1010f0" stroke-width="1.5"/>
<g stroke="#ff1010" stroke-width="1.5"><line x1="499" y1="44.7" x2="509.7" y2="44.7"/><line x1="534.6" y1="44.7" x2="545.2" y2="44.7"/></g>
<rect x="494.4" y="15.5" width="57.1" height="56.8" fill="none" stroke="#111" stroke-width="1.2"/>

<!-- right legend -->
<rect x="631.5" y="7.8" width="113.8" height="65.2" rx="1.5" fill="#fff" fill-opacity="0.8" stroke="#e0e0e0" stroke-width="0.6"/>
<line x1="634" y1="13.6" x2="649.2" y2="13.6" stroke="#ff5050" stroke-width="1"/>
<line x1="634" y1="24.2" x2="649.2" y2="24.2" stroke="#666" stroke-width="0.8"/>
<line x1="634" y1="35.2" x2="649.2" y2="35.2" stroke="#1e88f0" stroke-width="1.4" stroke-dasharray="3.2,1.6"/>
<rect x="634.1" y="43.8" width="15" height="15.3" fill="#cccccc"/>
<line x1="641.5" y1="62.6" x2="641.5" y2="70" stroke="#000" stroke-width="0.7"/>
<rect x="639.3" y="63.9" width="4.4" height="4.8" fill="#00ee00" stroke="#0a8a0a" stroke-width="0.6"/>
<g fill="#1a1a1a" stroke="#1a1a1a">
<text x="655.00" y="16.40" font-size="8.4" textLength="86.3" lengthAdjust="spacingAndGlyphs">Gemini-S/FLAMINGOS-2</text>
<text x="655.00" y="27.60" font-size="8.4" textLength="55.0" lengthAdjust="spacingAndGlyphs">Error spectrum</text>
<text x="655.00" y="38.50" font-size="8.4" textLength="43.2" lengthAdjust="spacingAndGlyphs">Gaussian fit</text>
<text x="655.00" y="48.70" font-size="8.4" textLength="68.4" lengthAdjust="spacingAndGlyphs">Telluric absorption</text>
<text x="655.00" y="57.80" font-size="8.4" textLength="86.2" lengthAdjust="spacingAndGlyphs">(H<tspan font-size="5.5" dy="1.5">2</tspan><tspan dy="-1.5">O vapor continuum)</tspan></text>
<text x="655.00" y="69.30" font-size="8.4" textLength="42.4" lengthAdjust="spacingAndGlyphs">Photometry</text>
</g>

<!-- RIGHT SNR -->
<line x1="408.0" y1="211.3" x2="748.4" y2="211.3" stroke="#fb9d35" stroke-width="1.0" stroke-dasharray="2.4,1.5"/>
<g clip-path="url(#cr2)"><polyline points="408.0,226.5 408.8,230.3 409.5,225.5 410.2,229.3 411.0,228.0 411.8,230.2 412.5,229.5 413.2,226.2 414.0,230.6 414.8,229.7 415.5,229.9 416.2,226.5 417.0,227.3 417.8,229.1 418.5,227.2 419.2,230.4 420.0,220.5 420.8,228.1 421.5,229.3 422.2,225.0 423.0,228.2 423.8,227.6 424.5,222.9 425.2,230.5 426.0,229.1 426.8,230.1 427.5,230.7 428.2,229.7 429.0,228.4 429.8,227.9 430.5,229.6 431.2,230.8 432.0,229.5 432.8,228.7 433.5,226.7 434.2,219.5 435.0,230.3 435.8,222.9 436.5,228.0 437.2,222.7 438.0,226.4 438.8,230.3 439.5,223.9 440.2,229.1 441.0,230.9 441.8,230.4 442.5,226.6 443.2,229.8 444.0,230.4 444.8,229.0 445.5,223.3 446.2,228.4 447.0,230.3 447.8,230.9 448.5,227.6 449.2,225.0 450.0,227.9 450.8,228.9 451.5,230.3 452.2,228.0 453.0,223.4 453.8,226.2 454.5,228.3 455.2,224.5 456.0,230.1 456.8,229.7 457.5,229.4 458.2,229.8 459.0,229.9 459.8,225.1 460.5,225.2 461.2,229.4 462.0,227.3 462.8,230.7 463.5,230.1 464.2,228.2 465.0,227.6 465.8,229.8 466.5,224.7 467.2,224.8 468.0,227.6 468.8,230.0 469.5,225.7 470.2,222.0 471.0,230.9 471.8,227.3 472.5,226.4 473.2,228.6 474.0,226.5 474.8,213.0 475.5,226.3 476.2,223.1 477.0,229.7 477.8,220.0 478.5,229.2 479.2,227.0 480.0,225.6 480.8,221.3 481.5,230.6 482.2,225.6 483.0,224.0 483.8,227.2 484.5,228.8 485.2,225.8 486.0,229.8 486.8,229.1 487.5,222.0 488.2,223.2 489.0,227.6 489.8,219.0 490.5,228.2 491.2,221.0 492.0,228.7 492.8,229.2 493.5,226.9 494.2,229.6 495.0,230.0 495.8,230.3 496.5,228.1 497.2,222.6 498.0,228.8 498.8,226.5 499.5,221.2 500.2,230.7 501.0,230.5 501.8,226.4 502.5,228.8 503.2,229.9 504.0,229.9 504.8,228.6 505.5,226.0 506.2,216.5 507.0,230.4 507.8,230.6 508.5,225.1 509.2,230.3 510.0,229.1 510.8,228.0 511.5,224.6 512.2,225.9 513.0,226.9 513.8,227.4 514.5,226.2 515.2,227.4 516.0,224.3 516.8,228.6 517.5,226.2 518.2,226.9 519.0,225.7 519.8,227.1 520.5,228.3 521.2,226.1 522.0,226.1 522.8,230.1 523.5,230.8 524.2,226.8 525.0,229.4 525.8,229.0 526.5,230.8 527.2,229.2 528.0,229.8 528.8,229.8 529.5,228.4 530.2,222.2 531.0,221.1 531.8,225.4 532.5,224.8 533.2,225.6 534.0,226.6 534.8,221.1 535.5,226.0 536.2,226.8 537.0,222.4 537.8,221.8 538.5,226.5 539.2,230.5 540.0,226.2 540.8,230.7 541.5,224.8 542.2,225.3 543.0,220.8 543.8,225.2 544.5,228.6 545.2,225.6 546.0,227.6 546.8,223.0 547.5,225.6 548.2,222.0 549.0,223.4 549.8,224.2 550.5,224.7 551.2,227.4 552.0,220.0 552.8,226.0 553.5,229.2 554.2,224.9 555.0,229.7 555.8,177.1 556.5,227.3 557.2,222.2 558.0,227.2 558.8,227.1 559.5,225.3 560.2,224.3 561.0,227.9 561.8,224.9 562.5,230.2 563.2,226.6 564.0,230.3 564.8,230.6 565.5,226.9 566.2,230.1 567.0,228.1 567.8,229.3 568.5,228.2 569.2,230.6 570.0,230.3 570.8,226.7 571.5,231.0 572.2,228.1 573.0,229.9 573.8,229.6 574.5,228.3 575.2,225.9 576.0,225.0 576.8,225.4 577.5,227.3 578.2,228.6 579.0,228.0 579.8,227.1 580.5,229.1 581.2,229.8 582.0,226.5 582.8,228.2 583.5,226.7 584.2,226.3 585.0,228.3 585.8,228.0 586.5,229.1 587.2,230.0 588.0,224.0 588.8,228.6 589.5,229.3 590.2,228.1 591.0,227.6 591.8,224.0 592.5,229.2 593.2,226.4 594.0,229.3 594.8,229.2 595.5,229.9 596.2,226.7 597.0,230.6 597.8,226.5 598.5,226.1 599.2,230.7 600.0,216.0 600.8,220.8 601.5,226.6 602.2,230.2 603.0,226.4 603.8,227.8 604.5,226.0 605.2,225.1 606.0,230.7 606.8,226.2 607.5,224.6 608.2,224.8 609.0,226.1 609.8,228.8 610.5,225.8 611.2,227.1 612.0,224.6 612.8,229.7 613.5,229.8 614.2,227.1 615.0,223.3 615.8,228.5 616.5,228.3 617.2,230.3 618.0,217.0 618.8,228.6 619.5,230.0 620.2,219.3 621.0,225.8 621.8,222.6 622.5,226.4 623.2,229.9 624.0,225.1 624.8,229.8 625.5,227.5 626.2,229.0 627.0,227.6 627.8,227.8 628.5,230.4 629.2,223.6 630.0,229.7 630.8,228.4 631.5,230.7 632.2,222.8 633.0,229.6 633.8,212.8 634.5,229.0 635.2,221.5 636.0,225.2 636.8,223.6 637.5,220.4 638.2,226.3 639.0,227.3 639.8,225.0 640.5,228.0 641.2,230.0 642.0,224.9 642.8,220.7 643.5,225.0 644.2,216.0 645.0,228.1 645.8,227.9 646.5,229.6 647.2,227.3 648.0,227.4 648.8,230.3 649.5,229.6 650.2,230.0 651.0,230.8 651.8,228.5 652.5,225.3 653.2,228.2 654.0,229.0 654.8,228.6 655.5,229.0 656.2,229.7 657.0,223.8 657.8,227.2 658.5,231.0 659.2,229.7 660.0,229.6 660.8,230.8 661.5,230.0 662.2,229.0 663.0,221.2 663.8,219.0 664.5,229.2 665.2,229.7 666.0,223.4 666.8,230.4 667.5,228.1 668.2,227.1 669.0,230.9 669.8,226.9 670.5,224.2 671.2,230.5 672.0,223.2 672.8,228.4 673.5,230.0 674.2,229.3 675.0,229.9 675.8,229.1 676.5,226.8 677.2,228.6 678.0,227.8 678.8,223.3 679.5,230.2 680.2,229.5 681.0,229.6 681.8,229.9 682.5,230.8 683.2,226.5 684.0,230.6 684.8,225.7 685.5,229.8 686.2,229.8 687.0,229.5 687.8,227.1 688.5,230.6 689.2,230.3 690.0,227.5 690.8,229.3 691.5,230.3 692.2,226.3 693.0,219.0 693.8,221.8 694.5,230.6 695.2,227.4 696.0,229.7 696.8,229.5 697.5,230.2 698.2,228.8 699.0,226.6 699.8,218.0 700.5,230.6 701.2,227.8 702.0,228.9 702.8,230.7 703.5,229.3 704.2,230.9 705.0,228.1 705.8,216.0 706.5,225.6 707.2,222.4 708.0,227.2 708.8,227.8 709.5,230.4 710.2,230.3 711.0,231.0 711.8,230.7 712.5,229.8 713.2,230.3 714.0,227.8 714.8,222.4 715.5,226.9 716.2,228.4 717.0,229.2 717.8,230.8 718.5,228.8 719.2,230.0 720.0,223.4 720.8,225.5 721.5,224.6 722.2,224.5 723.0,226.2 723.8,223.9 724.5,227.1 725.2,229.5 726.0,226.2 726.8,230.0 727.5,227.0 728.2,219.0 729.0,222.5 729.8,227.2 730.5,227.8 731.2,230.4 732.0,229.5 732.8,230.6 733.5,229.4 734.2,229.9 735.0,227.3 735.8,229.6 736.5,230.9 737.2,227.5 738.0,228.0 738.8,230.8 739.5,224.4 740.2,227.0 741.0,227.4 741.8,222.0 742.5,226.6 743.2,227.9 744.0,230.9 744.8,230.3 745.5,229.4 746.2,230.1 747.0,228.3 747.8,225.5" fill="none" stroke="#111" stroke-width="0.85" stroke-linejoin="round"/></g>

<!-- RIGHT frames -->
<g stroke="#111" stroke-width="1.1" fill="none">
<rect x="408.0" y="4.0" width="340.4" height="170.6"/>
<rect x="408.0" y="174.6" width="340.4" height="56.70000000000002"/>
<line x1="408.0" y1="174.85" x2="748.4" y2="174.85" stroke-width="1.8"/>
</g>
<g stroke="#111" stroke-width="0.8">
<line x1="406.5" y1="164.70" x2="408.0" y2="164.70"/><line x1="406.5" y1="143.25" x2="408.0" y2="143.25"/><line x1="406.5" y1="121.80" x2="408.0" y2="121.80"/><line x1="406.5" y1="100.35" x2="408.0" y2="100.35"/><line x1="406.5" y1="78.90" x2="408.0" y2="78.90"/><line x1="406.5" y1="57.45" x2="408.0" y2="57.45"/><line x1="406.5" y1="36.00" x2="408.0" y2="36.00"/><line x1="406.5" y1="14.55" x2="408.0" y2="14.55"/>
<line x1="406.5" y1="231.30" x2="408.0" y2="231.30"/><line x1="406.5" y1="211.30" x2="408.0" y2="211.30"/><line x1="406.5" y1="191.30" x2="408.0" y2="191.30"/>
<line x1="414.50" y1="231.3" x2="414.50" y2="232.8"/><line x1="456.06" y1="231.3" x2="456.06" y2="232.8"/><line x1="497.62" y1="231.3" x2="497.62" y2="232.8"/><line x1="539.18" y1="231.3" x2="539.18" y2="232.8"/><line x1="580.74" y1="231.3" x2="580.74" y2="232.8"/><line x1="622.30" y1="231.3" x2="622.30" y2="232.8"/><line x1="663.86" y1="231.3" x2="663.86" y2="232.8"/><line x1="705.42" y1="231.3" x2="705.42" y2="232.8"/><line x1="746.98" y1="231.3" x2="746.98" y2="232.8"/>
</g>
<g font-size="8.4" fill="#1a1a1a" stroke="#1a1a1a">
<text x="404.60" y="168.20" font-size="9.3" text-anchor="end" textLength="12.2" lengthAdjust="spacingAndGlyphs">0.0</text><text x="404.60" y="146.75" font-size="9.3" text-anchor="end" textLength="12.2" lengthAdjust="spacingAndGlyphs">0.2</text><text x="404.60" y="125.30" font-size="9.3" text-anchor="end" textLength="12.2" lengthAdjust="spacingAndGlyphs">0.4</text><text x="404.60" y="103.85" font-size="9.3" text-anchor="end" textLength="12.2" lengthAdjust="spacingAndGlyphs">0.6</text><text x="404.60" y="82.40" font-size="9.3" text-anchor="end" textLength="12.2" lengthAdjust="spacingAndGlyphs">0.8</text><text x="404.60" y="60.95" font-size="9.3" text-anchor="end" textLength="12.2" lengthAdjust="spacingAndGlyphs">1.0</text><text x="404.60" y="39.50" font-size="9.3" text-anchor="end" textLength="12.2" lengthAdjust="spacingAndGlyphs">1.2</text><text x="404.60" y="18.05" font-size="9.3" text-anchor="end" textLength="12.2" lengthAdjust="spacingAndGlyphs">1.4</text>
<text x="403.70" y="234.80" font-size="9.3" text-anchor="end" textLength="4.1" lengthAdjust="spacingAndGlyphs">0</text><text x="403.70" y="214.80" font-size="9.3" text-anchor="end" textLength="4.1" lengthAdjust="spacingAndGlyphs">5</text><text x="403.70" y="194.80" font-size="9.3" text-anchor="end" textLength="8.2" lengthAdjust="spacingAndGlyphs">10</text>
<text x="414.50" y="241.80" font-size="9.4" text-anchor="middle" textLength="23.6" lengthAdjust="spacingAndGlyphs">10000</text><text x="456.06" y="241.80" font-size="9.4" text-anchor="middle" textLength="23.6" lengthAdjust="spacingAndGlyphs">11000</text><text x="497.62" y="241.80" font-size="9.4" text-anchor="middle" textLength="23.6" lengthAdjust="spacingAndGlyphs">12000</text><text x="539.18" y="241.80" font-size="9.4" text-anchor="middle" textLength="23.6" lengthAdjust="spacingAndGlyphs">13000</text><text x="580.74" y="241.80" font-size="9.4" text-anchor="middle" textLength="23.6" lengthAdjust="spacingAndGlyphs">14000</text><text x="622.30" y="241.80" font-size="9.4" text-anchor="middle" textLength="23.6" lengthAdjust="spacingAndGlyphs">15000</text><text x="663.86" y="241.80" font-size="9.4" text-anchor="middle" textLength="23.6" lengthAdjust="spacingAndGlyphs">16000</text><text x="705.42" y="241.80" font-size="9.4" text-anchor="middle" textLength="23.6" lengthAdjust="spacingAndGlyphs">17000</text><text x="746.98" y="241.80" font-size="9.4" text-anchor="middle" textLength="23.6" lengthAdjust="spacingAndGlyphs">18000</text>
<text x="546.2" y="253.5" font-size="9" textLength="64.3" lengthAdjust="spacingAndGlyphs">Wavelength (<tspan font-style="italic">Å</tspan>)</text>
<text transform="translate(391.6,212.2) rotate(-90)" font-size="9" textLength="16.6" lengthAdjust="spacingAndGlyphs">SNR</text>
<text transform="translate(387.8,151.2) rotate(-90)" font-size="9" textLength="125.6" lengthAdjust="spacingAndGlyphs">Flux (10<tspan dy="-3.2" font-size="6.5">−17</tspan><tspan dy="3.2"> erg s</tspan><tspan dy="-3.2" font-size="6.5">−1</tspan><tspan dy="3.2"> cm</tspan><tspan dy="-3.2" font-size="6.5">−2</tspan><tspan dy="3.2"> </tspan><tspan font-style="italic">Å</tspan><tspan dy="-3.2" font-size="6.5">−1</tspan><tspan dy="3.2">)</tspan></text>
</g>
</svg>
</body></html>
